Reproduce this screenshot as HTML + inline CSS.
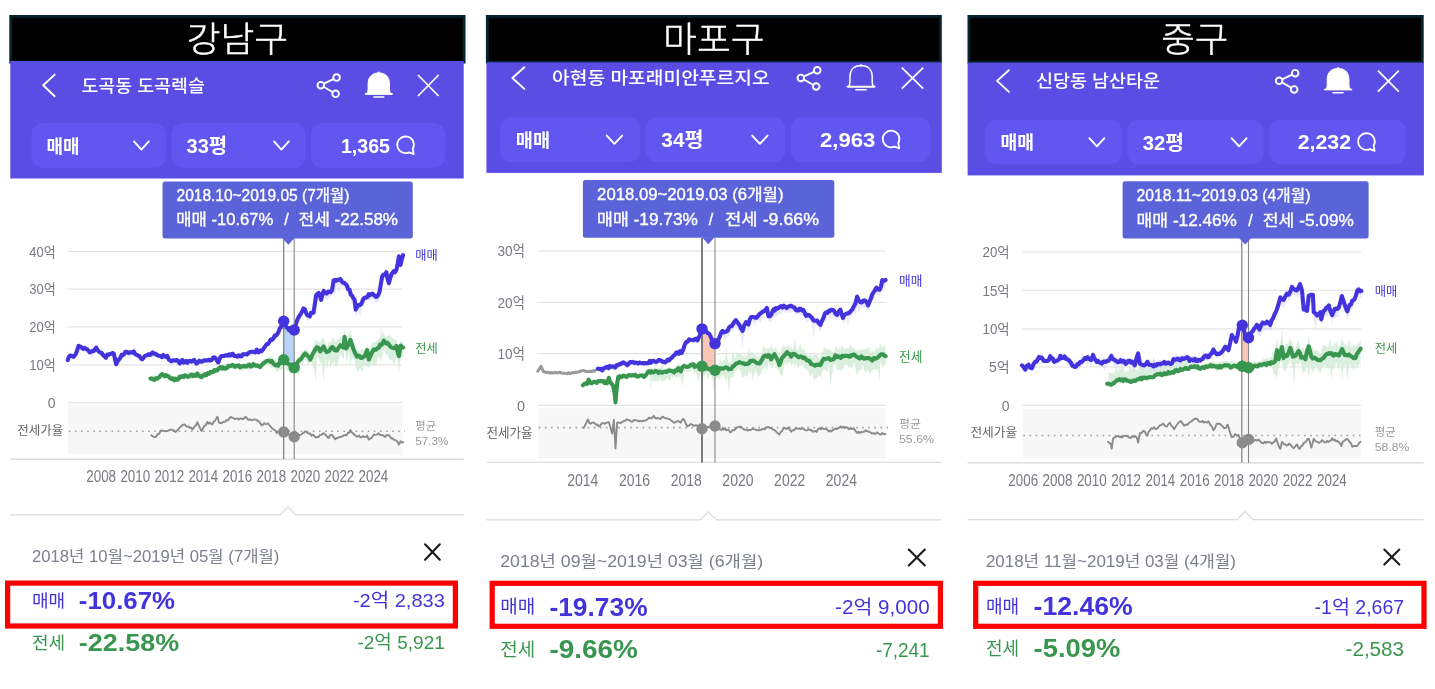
<!DOCTYPE html>
<html lang="ko">
<head>
<meta charset="utf-8">
<title>구별 아파트 실거래가 비교</title>
<style>
html,body{margin:0;padding:0;background:#fff;}
body{width:1435px;height:689px;overflow:hidden;position:relative;font-family:'Liberation Sans','Noto Sans CJK KR',sans-serif;}
svg{position:absolute;left:0;top:0;display:block;}
svg text{font-family:'Liberation Sans','Noto Sans CJK KR',sans-serif;white-space:pre;}
</style>
</head>
<body>
<svg width="1435" height="689" viewBox="0 0 1435 689">
<g>
<rect x="9.3" y="15" width="456.2" height="48.5" fill="#05232f"/>
<rect x="12.1" y="17.8" width="450.6" height="42.9" fill="#000"/>
<rect x="10.3" y="61" width="453.4" height="117.5" fill="#594de4"/>
<text x="237.4" y="52.2" font-size="35" fill="#fff" font-weight="300" text-anchor="middle" textLength="101.5" lengthAdjust="spacingAndGlyphs" stroke="#fff" stroke-width="0.45">강남구</text>
<polyline points="54.7,74.6 43.2,85.3 54.7,96.2" fill="none" stroke="#fff" stroke-width="1.9" stroke-linejoin="round" stroke-linecap="round"/>
<text x="81.4" y="91.75" font-size="17" fill="#fff" font-weight="500" textLength="123.4" lengthAdjust="spacingAndGlyphs">도곡동 도곡렉슬</text>
<path d="M336.6 77.6L320.8 85.2L335.6 93.8" fill="none" stroke="#fff" stroke-width="1.9"/>
<circle cx="336.6" cy="77.6" r="3.3" fill="#594de4" stroke="#fff" stroke-width="1.9"/>
<circle cx="320.8" cy="85.2" r="3.3" fill="#594de4" stroke="#fff" stroke-width="1.9"/>
<circle cx="335.6" cy="93.8" r="3.3" fill="#594de4" stroke="#fff" stroke-width="1.9"/>
<path d="M365.9 94.1C367.7 93.5 368.1 91 368.1 88.5L368.1 84C368.1 76.1 372.92 72.9 378.8 72.9C384.69 72.9 389.5 76.1 389.5 84L389.5 88.5C389.5 91 389.9 93.5 391.7 94.1Z" fill="#fff" stroke="#fff" stroke-width="1"/>
<line x1="365.6" y1="93.9" x2="392" y2="93.9" stroke="#fff" stroke-width="1.7" stroke-linecap="round"/>
<line x1="373.8" y1="97.1" x2="383.8" y2="97.1" stroke="#fff" stroke-width="1.5" stroke-linecap="round"/>
<line x1="378.8" y1="71.7" x2="378.8" y2="73.9" stroke="#fff" stroke-width="1.8"/>
<line x1="418" y1="75" x2="438.6" y2="96" stroke="#fff" stroke-width="1.7"/>
<line x1="438.6" y1="75" x2="418" y2="96" stroke="#fff" stroke-width="1.7"/>
<rect x="31.4" y="123" width="134.5" height="44.8" fill="#6256f1" rx="11.5"/>
<rect x="171.4" y="123" width="134.2" height="44.8" fill="#6256f1" rx="11.5"/>
<rect x="311.1" y="123" width="134.3" height="44.8" fill="#6256f1" rx="11.5"/>
<text x="46.5" y="152.51" font-size="18.6" fill="#fff" font-weight="700" textLength="33" lengthAdjust="spacingAndGlyphs">매매</text>
<text x="186.6" y="152.8" font-size="20" fill="#fff" font-weight="700" textLength="40.6" lengthAdjust="spacingAndGlyphs">33평</text>
<polyline points="134,141.4 141.4,149.6 148.8,141.4" fill="none" stroke="#fff" stroke-width="1.9" stroke-linejoin="round" stroke-linecap="round"/>
<polyline points="274,141.4 281.4,149.6 288.8,141.4" fill="none" stroke="#fff" stroke-width="1.9" stroke-linejoin="round" stroke-linecap="round"/>
<text x="340.9" y="152.6" font-size="20" fill="#fff" font-weight="700" textLength="49.1" lengthAdjust="spacingAndGlyphs">1,365</text>
<path d="M413.73 154.1L409.09 152.35A8.3 8.3 0 1 1 412.74 149.03Z" fill="none" stroke="#fff" stroke-width="1.8" stroke-linejoin="round"/>
<rect x="68.2" y="405.2" width="334" height="49.5" fill="#f7f7f7"/>
<line x1="68.2" y1="251.3" x2="402.2" y2="251.3" stroke="#e4e4e4" stroke-width="1.2"/>
<line x1="68.2" y1="289.2" x2="402.2" y2="289.2" stroke="#e4e4e4" stroke-width="1.2"/>
<line x1="68.2" y1="326.9" x2="402.2" y2="326.9" stroke="#e4e4e4" stroke-width="1.2"/>
<line x1="68.2" y1="364.9" x2="402.2" y2="364.9" stroke="#e4e4e4" stroke-width="1.2"/>
<line x1="68.2" y1="402.6" x2="402.2" y2="402.6" stroke="#e4e4e4" stroke-width="1.2"/>
<text x="55.6" y="256.5" font-size="14" fill="#777a80" text-anchor="end" textLength="26.4" lengthAdjust="spacingAndGlyphs">40억</text>
<text x="55.6" y="294.4" font-size="14" fill="#777a80" text-anchor="end" textLength="26.4" lengthAdjust="spacingAndGlyphs">30억</text>
<text x="55.6" y="332.1" font-size="14" fill="#777a80" text-anchor="end" textLength="26.4" lengthAdjust="spacingAndGlyphs">20억</text>
<text x="55.6" y="370.1" font-size="14" fill="#777a80" text-anchor="end" textLength="26.4" lengthAdjust="spacingAndGlyphs">10억</text>
<text x="55.6" y="407.8" font-size="14" fill="#777a80" text-anchor="end">0</text>
<line x1="68.8" y1="431.2" x2="405" y2="431.2" stroke="#a3a3a3" stroke-width="1.6" stroke-dasharray="1.7 4.4"/>
<text x="17.2" y="434.77" font-size="12.2" fill="#666" textLength="46" lengthAdjust="spacingAndGlyphs">전세가율</text>
<line x1="10.5" y1="459.2" x2="463.8" y2="459.2" stroke="#dcdcdc" stroke-width="1.4"/>
<text x="101.2" y="481.66" font-size="15.6" fill="#777a80" text-anchor="middle" textLength="29.7" lengthAdjust="spacingAndGlyphs">2008</text>
<text x="135.23" y="481.66" font-size="15.6" fill="#777a80" text-anchor="middle" textLength="29.7" lengthAdjust="spacingAndGlyphs">2010</text>
<text x="169.26" y="481.66" font-size="15.6" fill="#777a80" text-anchor="middle" textLength="29.7" lengthAdjust="spacingAndGlyphs">2012</text>
<text x="203.29" y="481.66" font-size="15.6" fill="#777a80" text-anchor="middle" textLength="29.7" lengthAdjust="spacingAndGlyphs">2014</text>
<text x="237.32" y="481.66" font-size="15.6" fill="#777a80" text-anchor="middle" textLength="29.7" lengthAdjust="spacingAndGlyphs">2016</text>
<text x="271.35" y="481.66" font-size="15.6" fill="#777a80" text-anchor="middle" textLength="29.7" lengthAdjust="spacingAndGlyphs">2018</text>
<text x="305.38" y="481.66" font-size="15.6" fill="#777a80" text-anchor="middle" textLength="29.7" lengthAdjust="spacingAndGlyphs">2020</text>
<text x="339.41" y="481.66" font-size="15.6" fill="#777a80" text-anchor="middle" textLength="29.7" lengthAdjust="spacingAndGlyphs">2022</text>
<text x="373.44" y="481.66" font-size="15.6" fill="#777a80" text-anchor="middle" textLength="29.7" lengthAdjust="spacingAndGlyphs">2024</text>
<path d="M150.52 376.39L151.78 376.38L153.03 376.26L154.29 374.86L155.54 375.88L156.88 376.71L158.22 375.6L159.55 373.87L160.89 373.43L162.23 372.15L163.48 373.62L164.74 373.55L165.99 373.02L167.25 373.85L168.64 374.23L170.03 375.36L171.43 376.14L172.82 376.9L174.22 376.62L175.61 377.78L176.95 376.38L178.29 376.28L179.62 374.53L180.96 374.85L182.3 373.66L183.64 373.88L184.98 373.2L186.31 373.28L187.65 373.07L188.99 371.29L190.38 373.95L191.78 373.08L193.17 373.68L194.56 372.5L195.96 373.2L197.35 372.66L198.61 372.98L199.86 372.14L201.11 371.48L202.37 374.67L203.71 374.5L205.05 372.57L206.38 372.37L207.72 371.43L209.06 370.25L210.4 370.65L211.74 369.08L213.07 369.05L214.41 369.22L215.75 367.62L217 367.72L218.26 367.18L219.51 366.16L220.77 365.94L222.02 365.02L223.28 366.46L224.53 365.72L225.78 366.36L227.04 365.23L228.29 361.6L229.55 364.52L230.8 362.45L232.12 363.95L233.43 364.15L234.74 363.39L236.06 362.77L237.37 363.77L238.69 364.04L240 364.78L241.34 363.72L242.68 364.06L244.01 363.47L245.35 363.68L246.69 363.53L248.03 362.81L249.37 363.73L250.7 363.95L252.04 363.12L253.38 362.43L254.72 363.69L256.06 362.7L257.39 362.69L258.73 363.94L260.07 363.2L261.41 362.36L262.75 361.32L264.08 358.84L265.42 360.39L266.76 359.6L268.01 359.52L269.27 359.21L270.52 355.46L271.78 356.18L273.03 359.4L274.29 359.67L275.54 359.57L276.79 362.59L278.2 360.64L279.6 358.68L281.01 357.51L282.41 355.62L283.82 354.01L285.38 358.39L286.94 360.3L288.5 359.59L289.76 360.78L291.01 361.99L292.26 360.21L293.52 363.21L294.77 362.78L296.03 361.67L297.28 358L298.54 357.64L299.87 356.79L301.21 350.59L302.55 351.4L303.89 351.03L305.23 348.04L306.48 349.38L307.74 350.3L308.99 353.12L310.24 354.17L311.58 351.48L312.92 347.07L314.26 344.58L315.6 340.16L316.93 341.04L318.61 341.99L320.28 342.61L321.95 337.83L323.62 338.14L325.3 341.83L326.97 347.26L328.22 342.53L329.48 341.29L330.73 343.14L331.99 339.4L333.24 336.82L334.49 341.25L335.75 341.73L337 340.02L338.68 339.23L340.35 336.89L342.02 338.58L343.69 337.89L344.53 328.12L346.2 338.68L347.6 336.5L348.99 333.3L350.38 329.53L352.06 337.51L353.73 344.66L355.4 344.63L357.07 349.71L358.41 351.07L359.75 350.5L361.09 349.56L362.43 348.47L363.76 349.56L365.44 348.36L367.11 344.13L368.78 351.13L370.45 346.76L372.13 342.38L373.46 342.33L374.8 342.12L376.14 341.35L377.48 340.57L378.82 339.41L380.07 337.23L381.32 328.52L382.58 334.7L383.83 331.87L385.09 336.86L386.34 337.48L387.6 334.69L388.85 336.09L390.1 334.64L391.36 337.4L392.61 338.01L393.87 339.22L395.12 339.84L396.38 339.21L397.63 344.5L398.89 350.03L400.56 340.23L401.81 341.38L403.07 342.37L403.07 355.63L401.81 358.29L400.56 359.35L398.89 373.44L397.63 360.4L396.38 355.17L395.12 362.06L393.87 365.1L392.61 361.63L391.36 360.79L390.1 359.18L388.85 358.85L387.6 353.03L386.34 356.29L385.09 350.13L383.83 349.33L382.58 355.62L381.32 360.01L380.07 360.82L378.82 355.66L377.48 358.37L376.14 365.06L374.8 364.75L373.46 366.91L372.13 362.39L370.45 365.74L368.78 367.9L367.11 365.64L365.44 366.46L363.76 364.71L362.43 371.2L361.09 370.28L359.75 367.99L358.41 371.83L357.07 371.19L355.4 364.13L353.73 357.92L352.06 358.27L350.38 364.66L348.99 351.7L347.6 358.24L346.2 361.63L344.53 346.89L343.69 359.85L342.02 355.91L340.35 353.28L338.68 359.52L337 366.06L335.75 366.22L334.49 360.57L333.24 364.2L331.99 362.68L330.73 367.81L329.48 359.47L328.22 361.75L326.97 369.01L325.3 358.33L323.62 382.32L321.95 362.18L320.28 362.97L318.61 357.2L316.93 358.56L315.6 383.13L314.26 368.89L312.92 367.66L311.58 360.9L310.24 361.97L308.99 364.27L307.74 362.88L306.48 362.22L305.23 358.19L303.89 361.57L302.55 363.77L301.21 362.74L299.87 365.86L298.54 377.17L297.28 368.36L296.03 368.5L294.77 373.85L293.52 373.96L292.26 370.84L291.01 373.65L289.76 373.79L288.5 370.62L286.94 370.98L285.38 366.23L283.82 364.34L282.41 369L281.01 370.01L279.6 370.16L278.2 370.85L276.79 372.09L275.54 368.8L274.29 368.71L273.03 366.65L271.78 369.05L270.52 367.02L269.27 363.41L268.01 365.69L266.76 365.24L265.42 365.35L264.08 366.44L262.75 367.33L261.41 369.11L260.07 369.09L258.73 369.35L257.39 367.57L256.06 368.91L254.72 367.39L253.38 367.29L252.04 367.09L250.7 368.29L249.37 369.63L248.03 369.97L246.69 369.48L245.35 368.37L244.01 370.02L242.68 370.47L241.34 370.17L240 370.51L238.69 369.59L237.37 368.5L236.06 369L234.74 369.59L233.43 368.91L232.12 369.17L230.8 366.9L229.55 369.46L228.29 369.66L227.04 370.6L225.78 370.89L224.53 372.37L223.28 371.02L222.02 370.53L220.77 370.44L219.51 372.22L218.26 371.04L217 371.27L215.75 373.12L214.41 373.88L213.07 374.97L211.74 374.35L210.4 375.48L209.06 375.34L207.72 377.19L206.38 377.77L205.05 378.65L203.71 379.09L202.37 380.39L201.11 379.69L199.86 378.77L198.61 378.91L197.35 376.98L195.96 377L194.56 377.31L193.17 377.46L191.78 377.9L190.38 379.21L188.99 378.78L187.65 378.22L186.31 378.35L184.98 378.18L183.64 380.12L182.3 378.33L180.96 379.24L179.62 379.8L178.29 382.17L176.95 381.56L175.61 382.1L174.22 381.26L172.82 381.69L171.43 379.9L170.03 381.42L168.64 380.31L167.25 380.18L165.99 377.52L164.74 379.42L163.48 377.82L162.23 378.99L160.89 378.77L159.55 379.66L158.22 379.17L156.88 381.15L155.54 382.2L154.29 382.51L153.03 382.38L151.78 381.79L150.52 381.63Z" fill="#cfe9d4" fill-opacity="0.75"/>
<path d="M68.99 356.16L70.24 354.16L71.92 354.66L73.59 356.52L74.84 354.52L76.1 351.47L77.35 347.73L78.61 343.93L80.28 345.88L81.95 347.42L83.21 347.02L84.46 347.45L85.71 346.75L86.97 346.74L88.36 346.89L89.76 349.79L91.15 351.23L92.4 350.42L93.66 348.87L94.91 348.22L96.17 346.43L97.56 347.52L98.95 348.22L100.35 350.14L101.74 352.75L103.14 354.02L104.53 355.99L105.92 355.39L107.32 353.41L108.71 353.1L109.97 352.15L111.22 352.23L112.47 351.39L113.73 351.2L114.98 357.13L116.24 363.25L117.63 360.32L119.02 357.65L120.42 355.5L121.67 354.11L122.93 353.32L124.18 351.95L125.44 350.9L126.83 351.26L128.22 351.46L129.62 351.3L131.01 351.44L132.4 351.11L133.8 350.99L135.19 351.7L136.59 352.77L137.98 353.52L139.37 354.76L140.77 356.2L142.16 357.24L143.41 355.86L144.67 355.27L145.92 354.71L147.18 354.33L148.52 353.91L149.85 353.44L151.19 352.94L152.53 351.94L153.87 350.71L155.21 352.3L156.54 352.21L157.88 353.32L159.22 353.58L160.56 354.29L161.9 354.49L163.23 354.44L164.57 354.47L165.91 354.26L167.25 354.18L168.92 356.96L170.59 360.74L171.85 358.56L173.1 359L174.36 359.14L175.61 359.09L177 359.18L178.4 359.02L179.79 361.17L181.05 360.49L182.3 359.49L183.55 360.04L184.81 360.72L186.06 361L187.32 361L188.66 360.56L189.99 359.6L191.33 360L192.67 359.29L194.01 358.82L195.26 360.15L196.52 362.26L197.91 361.51L199.3 360.6L200.7 359.37L202.09 358.85L203.48 358.96L204.88 358.81L206.27 357.19L207.67 358.46L209.06 359.02L210.4 358.4L211.74 358.06L213.07 356.77L214.41 356.15L215.75 355.68L217 358.56L218.26 359.99L219.65 358.51L221.05 354.38L222.44 353.77L223.78 353.43L225.11 353.23L226.45 352.68L227.79 352.82L229.13 352.45L230.38 352.8L231.64 351.86L232.89 353.81L234.15 353.58L235.61 353.51L237.07 354.7L238.54 354.52L240 355.37L241.39 355.04L242.79 353.83L244.18 352.76L245.57 352.02L246.97 351.63L248.36 350.61L249.76 350.48L251.15 350.62L252.54 349.77L253.94 350.32L255.33 349.74L256.72 349.25L257.98 349.11L259.23 350.22L260.49 350.39L261.74 350.46L263 348.67L264.25 346.47L265.51 345.21L266.76 343.95L268.1 341.65L269.44 340.45L270.77 338.54L272.11 337.81L273.45 336.32L274.7 334.2L275.96 333.83L277.21 332.03L278.47 330.14L279.8 328.09L281.14 324.78L282.48 321.73L283.82 319.21L285.1 321.8L286.38 324.56L287.67 326.83L289.13 327.08L290.59 328.16L292.06 327.12L293.52 328.11L294.91 324.63L296.31 320.89L297.7 316.17L299.16 314.29L300.63 311.23L302.09 309.35L303.55 305.64L304.81 308.64L306.06 310.6L307.32 311.73L308.57 314.43L309.83 312.56L311.08 312.56L312.33 311.51L313.59 309.83L314.84 301.55L316.1 293.71L317.35 291.85L318.61 291.95L319.86 293.73L321.11 296.45L322.37 293.03L323.62 289.14L325.3 290.35L326.97 291.68L328.22 290.52L329.48 290.25L330.73 288.26L331.99 288.2L333.66 279.11L335 277.99L336.33 277.78L337.67 278.25L339.01 277.92L340.35 277.41L341.6 279.35L342.86 278.74L344.11 280.03L345.37 280.62L346.76 283.95L348.15 286.24L349.55 288.13L350.8 291.19L352.06 294.85L353.31 295.77L354.56 297.15L355.74 306.65L357.3 305.33L358.86 302.61L360.42 301.75L361.81 299.57L363.21 298.19L364.6 295.38L365.99 294.22L367.39 293.12L368.78 292.5L370.03 292.99L371.29 292.99L372.54 292.77L373.8 291.92L375.05 293.46L376.31 296.22L377.98 292.68L379.65 289.86L380.91 281.9L382.16 275.06L383.55 273.89L384.95 272.38L386.34 271.3L387.6 275.3L388.85 280.73L390.1 275.53L391.36 271.45L392.61 270.99L393.87 269.89L395.12 269.98L396.38 268.8L397.63 261.09L398.89 253.23L400.56 262.31L401.81 258.63L403.07 253.05L403.07 262.59L401.81 264.28L400.56 271.51L398.89 258.66L397.63 266.93L396.38 274.73L395.12 277.68L393.87 278.16L392.61 278.1L391.36 279.89L390.1 282.62L388.85 289.2L387.6 281.36L386.34 278.41L384.95 280.55L383.55 279.27L382.16 281.3L380.91 291.36L379.65 299.08L377.98 301.02L376.31 303.51L375.05 301.85L373.8 298.59L372.54 300.99L371.29 298.59L370.03 301.62L368.78 300.18L367.39 299.7L365.99 301.75L364.6 304.72L363.21 306.25L361.81 307.51L360.42 317.08L358.86 312.56L357.3 313.43L355.74 316.86L354.56 302.74L353.31 304.64L352.06 303.47L350.8 299.15L349.55 296.88L348.15 295.3L346.76 291.43L345.37 287.16L344.11 287.58L342.86 286.74L341.6 288.21L340.35 285.75L339.01 294.26L337.67 285.71L336.33 287.39L335 297.88L333.66 288.61L331.99 295.34L330.73 296.14L329.48 297.84L328.22 299.16L326.97 299.96L325.3 298.52L323.62 297.65L322.37 301.42L321.11 302.85L319.86 299.83L318.61 298.62L317.35 301.01L316.1 298.67L314.84 307.59L313.59 315.74L312.33 316.53L311.08 318.16L309.83 318.9L308.57 319.79L307.32 321.84L306.06 315.81L304.81 315.2L303.55 311.8L302.09 314.37L300.63 317.78L299.16 324.15L297.7 321.43L296.31 325.86L294.91 329.45L293.52 333.48L292.06 334.94L290.59 332.85L289.13 333.06L287.67 331.53L286.38 328.36L285.1 326.08L283.82 323.29L282.48 327.62L281.14 329.69L279.8 331.59L278.47 333.81L277.21 337.31L275.96 338.6L274.7 340.09L273.45 339.46L272.11 342.14L270.77 343.51L269.44 345.51L268.1 345.68L266.76 347.37L265.51 348.87L264.25 351.76L263 352.78L261.74 355.94L260.49 354.29L259.23 354.24L257.98 354.96L256.72 353.81L255.33 355.16L253.94 353.74L252.54 355.68L251.15 356.03L249.76 355.73L248.36 354.48L246.97 356.77L245.57 355.85L244.18 357.15L242.79 358.45L241.39 359.02L240 363.09L238.54 359.95L237.07 359.08L235.61 357.8L234.15 357.26L232.89 358.12L231.64 356.61L230.38 358.37L229.13 357.85L227.79 358.63L226.45 356.38L225.11 357.85L223.78 358.06L222.44 357.82L221.05 360.66L219.65 362.82L218.26 364.16L217 363.7L215.75 361.66L214.41 360.2L213.07 361.28L211.74 361.6L210.4 362.37L209.06 363.93L207.67 362.95L206.27 363L204.88 363.51L203.48 364.27L202.09 363.51L200.7 363.87L199.3 364L197.91 365.44L196.52 367.21L195.26 363.69L194.01 363.48L192.67 363.21L191.33 363.84L189.99 364.17L188.66 364.79L187.32 364.78L186.06 364.97L184.81 364.86L183.55 363.67L182.3 363.16L181.05 364.46L179.79 366.17L178.4 365.01L177 365.01L175.61 363.35L174.36 363.61L173.1 363.86L171.85 364.96L170.59 365.22L168.92 360.79L167.25 359.75L165.91 358.72L164.57 359.79L163.23 359.44L161.9 359.24L160.56 359.66L159.22 358.33L157.88 358.47L156.54 356.39L155.21 358.35L153.87 356.39L152.53 356.82L151.19 357.74L149.85 356.95L148.52 357.99L147.18 358.31L145.92 359.8L144.67 359.71L143.41 361.03L142.16 360.28L140.77 359.53L139.37 359.02L137.98 358.62L136.59 357.25L135.19 357.37L133.8 356.42L132.4 356.06L131.01 355.39L129.62 359.93L128.22 355.98L126.83 354.39L125.44 356.21L124.18 355.71L122.93 357.02L121.67 357.76L120.42 360.83L119.02 362.12L117.63 366.09L116.24 366.56L114.98 361.28L113.73 355.78L112.47 357.03L111.22 356.24L109.97 355.89L108.71 356.7L107.32 358.39L105.92 358.94L104.53 359.99L103.14 357.95L101.74 356.23L100.35 355.93L98.95 353.21L97.56 353.12L96.17 350.55L94.91 352.37L93.66 352.35L92.4 357.97L91.15 356.24L89.76 354.21L88.36 353.55L86.97 350.41L85.71 351.02L84.46 351.95L83.21 351.62L81.95 350.56L80.28 350.43L78.61 347.9L77.35 352.66L76.1 356.16L74.84 359.28L73.59 360.43L71.92 359.58L70.24 357.76L68.99 360.97Z" fill="#cfcdf6" fill-opacity="0.45"/>
<polygon points="283.7,321.2 285.01,324.68 286.32,327.33 287.64,327.81 288.95,330.15 290.26,328.19 291.57,329.11 292.89,329.84 294.2,330 294.2,367.6 292.89,366.45 291.57,366.63 290.26,365.19 288.95,364.29 287.64,363.56 286.32,362.69 285.01,361.56 283.7,359.8" fill="#b9d3f7"/>
<polyline points="150.52,378.48 151.78,378.62 153.03,379.39 154.29,379.84 155.54,378.31 156.88,378.72 158.22,377.84 159.55,377 160.89,374.94 162.23,374 163.48,375.07 164.74,376.15 165.99,375.17 167.25,375.98 168.64,376.18 170.03,378.09 171.43,378.97 172.82,378.3 174.22,380.38 175.61,378.77 176.95,379.8 178.29,379.18 179.62,376.68 180.96,377.24 182.3,376.12 183.64,377.07 184.98,375.28 186.31,376.07 187.65,376.89 188.99,376.31 190.38,375.24 191.78,374.41 193.17,376.19 194.56,374.8 195.96,375.77 197.35,373.44 198.61,375.68 199.86,376.31 201.11,377.19 202.37,375.65 203.71,375.67 205.05,374.06 206.38,374.91 207.72,373.12 209.06,373.73 210.4,371.83 211.74,372.29 213.07,372.01 214.41,370 215.75,370.26 217,370.59 218.26,368.93 219.51,367.9 220.77,367.05 222.02,368.51 223.28,367.29 224.53,368.49 225.78,368.58 227.04,367.74 228.29,365.89 229.55,366.32 230.8,366.1 232.12,364.91 233.43,365.18 234.74,366.8 236.06,366.25 237.37,365.75 238.69,365.36 240,367.38 241.34,366.24 242.68,366.36 244.01,365.73 245.35,366.43 246.69,366.49 248.03,365.32 249.37,364.59 250.7,366.61 252.04,366.26 253.38,363.95 254.72,365.43 256.06,365.89 257.39,365.37 258.73,366.33 260.07,367.04 261.41,365.32 262.75,364.01 264.08,362.7 265.42,362 266.76,360.92 268.01,360.62 269.27,360.65 270.52,361.95 271.78,361.01 273.03,362.91 274.29,364.44 275.54,365.43 276.79,364.86 278.18,365.73 279.56,362.51 280.94,362.91 282.32,361.84 283.7,359.8 285.3,361.95 286.9,363.11 288.5,364.08 289.93,364.73 291.35,366.68 292.78,366.36 294.2,367.6 295.65,365.73 297.09,363.14 298.54,360.95 299.87,359.6 301.21,358.95 302.55,356.71 303.89,354.81 305.23,353.36 306.48,354.78 307.74,355.94 308.99,357.03 310.24,359.54 311.58,356.84 312.92,353.42 314.26,351.46 315.6,348.97 316.93,347.22 318.61,348.08 320.28,351.48 321.95,348.96 323.62,346.52 325.3,350.58 326.97,352.15 328.22,351.29 329.48,350.67 330.73,348.3 331.99,346.98 333.24,347.44 334.49,349.99 335.75,350.45 337,350.42 338.68,347.61 340.35,345.25 342.02,346.33 343.69,347.6 344.53,336.77 346.2,348.56 347.6,346.08 348.99,343.44 350.38,339.9 352.06,344.9 353.73,350.06 355.4,353.48 357.07,356.68 358.41,355.57 359.75,356.17 361.09,357.91 362.43,357.53 363.76,356.66 365.44,354.42 367.11,350.2 368.78,359.53 370.45,355.95 372.13,352.2 373.46,349.59 374.8,349.65 376.14,349.69 377.48,347.98 378.82,347.89 380.07,344.49 381.32,345.18 382.58,343.75 383.83,340.55 385.09,342.4 386.34,343.57 387.6,342.9 388.85,344.56 390.1,346.29 391.36,347.41 392.61,347.79 393.87,348.16 395.12,348.06 396.38,345.96 397.63,351.82 398.89,356.19 400.56,345.5 401.81,346.81 403.07,347.54" fill="none" stroke="#38964f" stroke-width="4.1" stroke-linejoin="round" stroke-linecap="round"/>
<polyline points="67.74,360.09 68.99,356.75 70.24,355.49 71.92,355.89 73.59,356.79 74.84,355.46 76.1,353.38 77.35,349.58 78.61,345.76 80.28,346.51 81.95,347.74 83.21,348.88 84.46,347.92 85.71,348.83 86.97,349.13 88.36,350.72 89.76,352.32 91.15,351.87 92.4,350.83 93.66,351.08 94.91,349.62 96.17,347.6 97.56,349.96 98.95,351.58 100.35,352.6 101.74,352.94 103.14,355.1 104.53,356.3 105.92,357.7 107.32,354.62 108.71,354.82 109.97,353.91 111.22,353.64 112.47,353.05 113.73,353.41 114.98,358.93 116.24,364.26 117.63,361.09 119.02,359.36 120.42,357.84 121.67,354.77 122.93,355.13 124.18,353.95 125.44,351.68 126.83,351.8 128.22,353.05 129.62,352.4 131.01,352.32 132.4,352.51 133.8,351.52 135.19,354.07 136.59,354.74 137.98,355.58 139.37,356.05 140.77,358.25 142.16,359.26 143.41,357.9 144.67,356.09 145.92,355.62 147.18,355 148.52,354.14 149.85,354.95 151.19,354.01 152.53,352.46 153.87,353.63 155.21,353.57 156.54,354.66 157.88,355.39 159.22,355.71 160.56,355.98 161.9,357.17 163.23,354.95 164.57,356.4 165.91,356.9 167.25,355.85 168.92,359.66 170.59,360.93 171.85,361.12 173.1,360.33 174.36,360.24 175.61,360.61 177,360 178.4,361.34 179.79,363.5 181.05,361.24 182.3,359.95 183.55,362.63 184.81,361.87 186.06,360.92 187.32,362.78 188.66,361.17 189.99,360.72 191.33,361.71 192.67,360.98 194.01,359.9 195.26,361.8 196.52,363.58 197.91,362.49 199.3,360.72 200.7,361.62 202.09,361.49 203.48,360.44 204.88,360.26 206.27,360.65 207.67,360.15 209.06,359.87 210.4,360.56 211.74,360.14 213.07,357.67 214.41,357.23 215.75,358.32 217,360.86 218.26,362.36 219.65,359 221.05,356.15 222.44,355.92 223.78,356.02 225.11,355.41 226.45,355.18 227.79,355.63 229.13,354.3 230.38,355.56 231.64,354.03 232.89,353.76 234.15,355.95 235.61,356 237.07,356.68 238.54,355.36 240,356.22 241.39,356.27 242.79,354.22 244.18,354.21 245.57,354.22 246.97,354.39 248.36,353.13 249.76,352.01 251.15,351.76 252.54,351.76 253.94,352.07 255.33,352.46 256.72,349.62 257.98,352.2 259.23,352.09 260.49,350.33 261.74,351.09 263,349.46 264.25,347.64 265.51,345.83 266.76,344.09 268.1,343.99 269.44,341.86 270.77,339.5 272.11,339.91 273.45,338.38 274.7,335.52 275.96,335.63 277.21,334.12 278.47,332.12 279.78,328.26 281.08,327.16 282.39,324.88 283.7,321.2 285.02,324.7 286.34,327.37 287.67,327.82 288.97,330.19 290.28,328.16 291.59,329.12 292.89,329.84 294.2,330 295.37,326.3 296.53,321.96 297.7,318.88 299.16,316.24 300.63,314.16 302.09,311.38 303.55,308.51 304.81,309.26 306.06,312.77 307.32,315.4 308.57,315.34 309.83,316.4 311.08,312.8 312.33,312.75 313.59,312.62 314.84,304.16 316.1,295.44 317.35,293.84 318.61,292.91 319.86,295.56 321.11,299.8 322.37,294.41 323.62,290.93 325.3,293.3 326.97,293.43 328.22,291.48 329.48,291.7 330.73,292.17 331.99,290.26 333.66,280.43 335,279.92 336.33,280.69 337.67,279.86 339.01,279.77 340.35,279.05 341.6,281.3 342.86,282.63 344.11,282.72 345.37,283.83 346.76,285.23 348.15,289.28 349.55,289.67 350.8,294.66 352.06,295.65 353.31,298.17 354.56,299.55 355.74,309.64 357.3,306.77 358.86,304.69 360.42,304.88 361.81,302.94 363.21,299.02 364.6,297.52 365.99,297.77 367.39,297.04 368.78,294.02 370.03,295.15 371.29,294.17 372.54,293.53 373.8,294.91 375.05,296.05 376.31,296.99 377.98,295.5 379.65,291.44 380.91,283.76 382.16,276.32 383.55,274.66 384.95,274.95 386.34,272.22 387.6,278.81 388.85,283.19 390.1,278.2 391.36,274.53 392.61,272.54 393.87,271.04 395.12,272.03 396.38,269.86 397.63,264.16 398.89,256.34 400.56,264.86 401.81,259.06 403.07,255.1" fill="none" stroke="#4233dc" stroke-width="4.1" stroke-linejoin="round" stroke-linecap="round"/>
<polyline points="151.36,435.35 152.75,436.3 154.15,437.09 155.54,437.07 156.79,435.58 158.05,433.86 159.3,433.72 160.56,430.7 161.9,430.49 163.23,430.84 164.57,430.94 165.91,431.19 167.25,431.16 168.5,430.26 169.76,430.2 171.01,429.62 172.26,429.65 173.94,430.51 175.61,431.9 176.95,430.51 178.29,429.59 179.62,427.58 180.96,426.66 182.3,425.14 183.55,424.71 184.81,424.43 186.06,426.23 187.32,426.71 188.57,426.55 189.83,427.75 191.08,427.59 192.33,429.57 193.59,427.93 194.84,426.37 196.1,425.27 197.35,422.22 198.75,425.41 200.14,428.33 201.53,430.99 203,428.21 204.46,425.77 205.92,424.96 207.39,421.94 208.64,423.67 209.9,422.56 211.15,423.96 212.4,424.43 213.66,421.76 214.91,420.67 216.17,418.83 217.42,416.66 219.09,422.84 220.35,422.98 221.6,423.25 222.86,422.03 224.11,421.76 225.45,421.53 226.79,419.95 228.13,420.25 229.46,418.27 230.8,416.97 232.12,417.55 233.43,418.05 234.74,419.02 236.06,418.66 237.37,418.54 238.69,419.61 240,418.46 241.25,418.4 242.51,419.04 243.76,418.76 245.02,416.91 246.27,417.46 247.53,419.05 248.78,420.01 250.03,419.23 251.37,420.16 252.71,419.8 254.05,419.38 255.39,419.57 256.72,419.83 257.98,421.27 259.23,421.53 260.49,423.7 261.74,425.31 263,424.67 264.25,423.11 265.51,424.18 266.76,423.94 268.01,423.4 269.27,425.06 270.52,426.49 271.78,427.98 273.03,429.18 274.29,429.65 275.54,430.94 276.79,433.01 278.18,431.37 279.56,432.02 280.94,431.04 282.32,432.6 283.7,432 285.01,432.93 286.32,432.54 287.64,433.1 288.95,434.4 290.26,435.49 291.57,434.72 292.89,435.72 294.2,436.7 295.65,436.17 297.09,435.05 298.54,435.86 299.87,434.84 301.21,434.68 302.55,433.32 303.89,432.74 305.23,431.2 306.48,432.39 307.74,432.93 308.99,433.75 310.24,433.55 311.58,435.78 312.92,434.76 314.26,435.93 315.6,437.47 316.93,437.05 318.27,437.16 319.61,435.16 320.95,434.94 322.29,434.08 323.62,433.29 324.88,434.22 326.13,435.23 327.39,436.94 328.64,438.06 330.31,434.87 331.99,434.88 333.66,437.08 335.33,439.34 336.59,437.89 337.84,437.97 339.09,437.25 340.35,436.73 341.6,436.81 342.86,435.89 344.11,435.32 345.37,434.85 346.62,435.23 347.87,432.77 349.13,432.88 350.38,429.93 351.64,432.2 352.89,433.13 354.15,434.64 355.4,435.38 356.66,436.59 357.91,436.38 359.16,435.61 360.42,437.42 361.76,437.1 363.09,436.13 364.43,437.03 365.77,437.09 367.11,435.69 368.78,439.59 370.03,438.65 371.29,438.05 372.54,436.48 373.8,434.41 375.05,434.82 376.31,434.62 377.56,434.27 378.82,433.35 380.07,434.93 381.32,435.32 382.58,435.03 383.83,435.85 385.09,436.91 386.34,435.15 387.6,435.44 388.85,434.92 390.1,436.79 391.36,438.51 392.61,438.28 393.87,439.68 395.54,440.24 397.21,441.22 398.89,444.59 400.56,441.18 401.81,442.6 403.07,442.04" fill="none" stroke="#8b8b8b" stroke-width="1.9" stroke-linejoin="round" stroke-linecap="round"/>
<line x1="283.7" y1="238.5" x2="283.7" y2="459.2" stroke="#7c7c7c" stroke-width="1.2"/>
<line x1="294.2" y1="238.5" x2="294.2" y2="459.2" stroke="#868686" stroke-width="1.1"/>
<circle cx="283.7" cy="321.2" r="5.7" fill="#4233dc"/>
<circle cx="294.2" cy="330" r="5.7" fill="#4233dc"/>
<circle cx="283.7" cy="359.8" r="5.7" fill="#38964f"/>
<circle cx="294.2" cy="367.6" r="5.7" fill="#38964f"/>
<circle cx="283.7" cy="432" r="5.7" fill="#8b8b8b"/>
<circle cx="294.2" cy="436.7" r="5.7" fill="#8b8b8b"/>
<text x="415.3" y="260.27" font-size="12.2" fill="#4233dc" textLength="22.4" lengthAdjust="spacingAndGlyphs">매매</text>
<text x="415.3" y="353.07" font-size="12.2" fill="#38964f" textLength="22.4" lengthAdjust="spacingAndGlyphs">전세</text>
<text x="415.3" y="429.92" font-size="11.2" fill="#9a9a9a" textLength="20.83" lengthAdjust="spacingAndGlyphs">평균</text>
<text x="415.3" y="445.19" font-size="11.4" fill="#9a9a9a" textLength="33" lengthAdjust="spacingAndGlyphs">57.3%</text>
<rect x="162.5" y="181.6" width="250.3" height="56.9" fill="#5b63d8" rx="2.5"/>
<path d="M282.2 238L288.4 244.8L294.6 238Z" fill="#5b63d8"/>
<text x="176.5" y="201.4" font-size="16" fill="#fff" textLength="173" lengthAdjust="spacingAndGlyphs" stroke="#fff" stroke-width="0.35">2018.10~2019.05 (7개월)</text>
<text x="176.3" y="225.2" font-size="16" fill="#fff" textLength="97" lengthAdjust="spacingAndGlyphs" stroke="#fff" stroke-width="0.35">매매 -10.67%</text>
<text x="286.6" y="225.2" font-size="16" fill="#fff" text-anchor="middle" stroke="#fff" stroke-width="0.35">/</text>
<text x="298.5" y="225.2" font-size="16" fill="#fff" textLength="99.5" lengthAdjust="spacingAndGlyphs" stroke="#fff" stroke-width="0.35">전세 -22.58%</text>
<path d="M10.5 514.9L280 514.9L288 506.9L296 514.9L463.8 514.9" fill="none" stroke="#dcdcdc" stroke-width="1.3"/>
<text x="32" y="562.26" font-size="15.6" fill="#7b7f8a" textLength="247.4" lengthAdjust="spacingAndGlyphs">2018년 10월~2019년 05월 (7개월)</text>
<line x1="425.1" y1="544.3" x2="439.8" y2="559.8" stroke="#1c1c1c" stroke-width="2.1" stroke-linecap="round"/>
<line x1="439.8" y1="544.3" x2="425.1" y2="559.8" stroke="#1c1c1c" stroke-width="2.1" stroke-linecap="round"/>
<text x="32" y="606.86" font-size="17.6" fill="#4233dc" textLength="33.2" lengthAdjust="spacingAndGlyphs">매매</text>
<text x="78.8" y="608.88" font-size="24.8" fill="#4233dc" font-weight="700" textLength="96.2" lengthAdjust="spacingAndGlyphs">-10.67%</text>
<text x="444.9" y="607.45" font-size="19" fill="#4233dc" text-anchor="end" textLength="92" lengthAdjust="spacingAndGlyphs">-2억 2,833</text>
<text x="32" y="648.66" font-size="17.6" fill="#38964f" textLength="33.2" lengthAdjust="spacingAndGlyphs">전세</text>
<text x="78.8" y="650.68" font-size="24.8" fill="#38964f" font-weight="700" textLength="100.4" lengthAdjust="spacingAndGlyphs">-22.58%</text>
<text x="444.9" y="649.25" font-size="19" fill="#38964f" text-anchor="end" textLength="87.5" lengthAdjust="spacingAndGlyphs">-2억 5,921</text>
<rect x="7.6" y="583.1" width="447.8" height="42.9" fill="none" stroke="#ff0000" stroke-width="5.2"/>
</g>
<g>
<rect x="485.9" y="15" width="455.9" height="48.5" fill="#05232f"/>
<rect x="488.7" y="17.8" width="450.3" height="42.9" fill="#000"/>
<rect x="486.4" y="62.3" width="455.4" height="110.6" fill="#594de4"/>
<text x="713.85" y="52.2" font-size="35" fill="#fff" font-weight="300" text-anchor="middle" textLength="101.5" lengthAdjust="spacingAndGlyphs" stroke="#fff" stroke-width="0.45">마포구</text>
<polyline points="524.33,67.3 512.38,78 524.33,88.9" fill="none" stroke="#fff" stroke-width="1.9" stroke-linejoin="round" stroke-linecap="round"/>
<text x="552.07" y="84.45" font-size="17" fill="#fff" font-weight="500" textLength="217.5" lengthAdjust="spacingAndGlyphs">아현동 마포래미안푸르지오</text>
<path d="M817.23 70.3L800.81 77.9L816.19 86.5" fill="none" stroke="#fff" stroke-width="1.9"/>
<circle cx="817.23" cy="70.3" r="3.3" fill="#594de4" stroke="#fff" stroke-width="1.9"/>
<circle cx="800.81" cy="77.9" r="3.3" fill="#594de4" stroke="#fff" stroke-width="1.9"/>
<circle cx="816.19" cy="86.5" r="3.3" fill="#594de4" stroke="#fff" stroke-width="1.9"/>
<path d="M847.67 86.8C849.56 86.2 849.96 83.7 849.96 81.2L849.96 76.7C849.96 68.8 854.96 65.6 861.07 65.6C867.19 65.6 872.19 68.8 872.19 76.7L872.19 81.2C872.19 83.7 872.59 86.2 874.48 86.8Z" fill="none" stroke="#fff" stroke-width="1.5"/>
<line x1="847.36" y1="86.6" x2="874.79" y2="86.6" stroke="#fff" stroke-width="1.7" stroke-linecap="round"/>
<line x1="855.88" y1="89.8" x2="866.27" y2="89.8" stroke="#fff" stroke-width="1.5" stroke-linecap="round"/>
<line x1="861.07" y1="64.4" x2="861.07" y2="66.6" stroke="#fff" stroke-width="1.8"/>
<line x1="901.8" y1="67.7" x2="923.21" y2="88.7" stroke="#fff" stroke-width="1.7"/>
<line x1="923.21" y1="67.7" x2="901.8" y2="88.7" stroke="#fff" stroke-width="1.7"/>
<rect x="500.12" y="117.2" width="139.75" height="44.8" fill="#6256f1" rx="11.5"/>
<rect x="645.58" y="117.2" width="139.43" height="44.8" fill="#6256f1" rx="11.5"/>
<rect x="790.73" y="117.2" width="139.54" height="44.8" fill="#6256f1" rx="11.5"/>
<text x="515.81" y="146.71" font-size="18.6" fill="#fff" font-weight="700" textLength="34.29" lengthAdjust="spacingAndGlyphs">매매</text>
<text x="661.38" y="147" font-size="20" fill="#fff" font-weight="700" textLength="42.18" lengthAdjust="spacingAndGlyphs">34평</text>
<polyline points="606.73,135.6 614.41,143.8 622.1,135.6" fill="none" stroke="#fff" stroke-width="1.9" stroke-linejoin="round" stroke-linecap="round"/>
<polyline points="752.19,135.6 759.87,143.8 767.56,135.6" fill="none" stroke="#fff" stroke-width="1.9" stroke-linejoin="round" stroke-linecap="round"/>
<text x="819.9" y="146.8" font-size="20" fill="#fff" font-weight="700" textLength="55.5" lengthAdjust="spacingAndGlyphs">2,963</text>
<path d="M899.25 148.3L894.6 146.55A8.3 8.3 0 1 1 898.26 143.23Z" fill="none" stroke="#fff" stroke-width="1.8" stroke-linejoin="round"/>
<rect x="538.2" y="408.4" width="347.4" height="50.2" fill="#f7f7f7"/>
<line x1="538.2" y1="251.1" x2="885.6" y2="251.1" stroke="#e4e4e4" stroke-width="1.2"/>
<line x1="538.2" y1="302.3" x2="885.6" y2="302.3" stroke="#e4e4e4" stroke-width="1.2"/>
<line x1="538.2" y1="353.6" x2="885.6" y2="353.6" stroke="#e4e4e4" stroke-width="1.2"/>
<line x1="538.2" y1="405.4" x2="885.6" y2="405.4" stroke="#e4e4e4" stroke-width="1.2"/>
<text x="525" y="256.45" font-size="14.42" fill="#777a80" text-anchor="end" textLength="27.6" lengthAdjust="spacingAndGlyphs">30억</text>
<text x="525" y="307.65" font-size="14.42" fill="#777a80" text-anchor="end" textLength="27.6" lengthAdjust="spacingAndGlyphs">20억</text>
<text x="525" y="358.95" font-size="14.42" fill="#777a80" text-anchor="end" textLength="27.6" lengthAdjust="spacingAndGlyphs">10억</text>
<text x="525" y="410.75" font-size="14.42" fill="#777a80" text-anchor="end">0</text>
<line x1="538.8" y1="427.6" x2="888" y2="427.6" stroke="#a3a3a3" stroke-width="1.6" stroke-dasharray="1.7 4.4"/>
<text x="486.4" y="437.1" font-size="12.57" fill="#666" textLength="46.3" lengthAdjust="spacingAndGlyphs">전세가율</text>
<line x1="486.7" y1="462.4" x2="941.6" y2="462.4" stroke="#dcdcdc" stroke-width="1.4"/>
<text x="582.7" y="486.02" font-size="16.07" fill="#777a80" text-anchor="middle" textLength="31.1" lengthAdjust="spacingAndGlyphs">2014</text>
<text x="634.44" y="486.02" font-size="16.07" fill="#777a80" text-anchor="middle" textLength="31.1" lengthAdjust="spacingAndGlyphs">2016</text>
<text x="686.18" y="486.02" font-size="16.07" fill="#777a80" text-anchor="middle" textLength="31.1" lengthAdjust="spacingAndGlyphs">2018</text>
<text x="737.92" y="486.02" font-size="16.07" fill="#777a80" text-anchor="middle" textLength="31.1" lengthAdjust="spacingAndGlyphs">2020</text>
<text x="789.66" y="486.02" font-size="16.07" fill="#777a80" text-anchor="middle" textLength="31.1" lengthAdjust="spacingAndGlyphs">2022</text>
<text x="841.4" y="486.02" font-size="16.07" fill="#777a80" text-anchor="middle" textLength="31.1" lengthAdjust="spacingAndGlyphs">2024</text>
<path d="M650.28 367.12L651.61 369.42L652.95 369.12L654.29 367.19L655.63 369.62L657.02 369.23L658.41 367.63L659.81 368.07L661.2 367.61L662.6 364.65L663.99 369.66L665.24 368.21L666.5 367.89L667.75 367.01L669.01 367.84L670.26 367.39L671.52 367.82L672.77 367.83L674.02 369.23L675.42 366.86L676.81 366.39L678.21 364.08L679.46 364.52L680.71 366.31L682.39 364.32L684.06 362.96L685.73 363.58L687.4 364.41L689.08 362.98L690.75 361.66L692 360.35L693.26 362.97L694.51 361.42L695.77 363.27L697.04 363.47L698.31 359.11L699.58 363.89L700.85 363.26L702.12 361.52L703.46 364.04L704.8 364.16L706.14 365.02L707.47 364.49L708.73 365.71L709.98 365.44L711.24 366.62L712.49 367.66L713.75 367.05L715 366.7L716.25 367.8L717.51 366.53L718.76 364.37L720.02 357.97L721.27 361.27L722.53 362.26L723.78 359.81L725.03 359.25L726.29 347.12L727.54 359.45L728.8 361.42L730.05 363.35L731.31 362.38L732.56 350.02L733.82 355L735.07 359.01L736.46 352.83L737.86 352.69L739.25 353.73L740.71 354.34L742.18 354.73L743.64 356.51L745.1 355.58L746.36 356.87L747.61 355.36L748.87 347.22L750.12 354.54L751.38 351.65L752.63 351.87L753.89 354.9L755.14 355.07L756.81 356.85L758.48 356.1L759.74 356.22L760.99 355.27L762.25 349.93L763.5 345.2L764.76 348.06L766.01 347.76L767.26 349.46L768.52 347.34L769.77 348.98L771.03 343.6L772.7 349.05L774.37 348.91L775.63 346.31L776.88 349.23L778.14 355.1L779.39 353.15L780.64 356.08L781.9 347.39L783.57 345.05L785.24 347.47L786.92 346.8L788.59 344.19L789.84 347.77L791.1 346.7L792.35 349.84L793.61 347.73L794.86 336.81L796.11 346.44L797.37 350.92L798.62 348.34L800.3 343.19L801.97 350.35L803.22 348.44L804.48 348.34L805.73 353.69L806.99 354.21L808.32 355.16L809.66 355.27L811 353.96L812.34 357.15L813.68 354.85L815.01 355.03L816.35 355L817.69 353.32L819.03 359.33L820.37 356.45L822.04 353.38L823.71 347.93L824.97 346.51L826.22 350.04L827.47 347.79L828.73 349.97L830.4 348.87L832.07 352.33L833.75 352.47L835.42 347.27L836.76 346.04L838.09 350.19L839.43 347.84L840.77 349.19L842.11 345.05L843.45 347.79L844.78 349.34L846.12 347.39L847.46 348.25L848.8 348.77L850.05 344.41L851.31 346.84L852.56 346.95L853.82 348.47L855.21 350.26L856.6 350.58L858 350.46L859.67 349.48L861.34 350.52L862.74 349.47L864.13 349.38L865.52 349.01L867.2 348.43L868.87 346.36L870.54 353.34L872.21 350.83L873.89 352.17L875.56 349.44L876.81 345.67L878.07 349.94L879.32 346.69L880.57 343.55L881.83 347.31L883.08 345.76L884.34 347.35L885.59 344.89L885.59 366.13L884.34 364.11L883.08 368.31L881.83 364.51L880.57 361.27L879.32 382.11L878.07 368L876.81 371.12L875.56 369.11L873.89 369.16L872.21 369.89L870.54 373.37L868.87 372.04L867.2 369.64L865.52 372.84L864.13 369.94L862.74 364.32L861.34 370.54L859.67 368.52L858 372.96L856.6 374.67L855.21 366.79L853.82 361.52L852.56 367.01L851.31 367.99L850.05 367.52L848.8 367.79L847.46 364.54L846.12 365.41L844.78 364.13L843.45 368.87L842.11 369.84L840.77 370.95L839.43 369.9L838.09 369.06L836.76 370.48L835.42 362.47L833.75 365.7L832.07 373.63L830.4 386.38L828.73 363.89L827.47 372.07L826.22 370.65L824.97 369.44L823.71 369.21L822.04 372.12L820.37 377.89L819.03 374.45L817.69 377.9L816.35 377.73L815.01 379.48L813.68 379.58L812.34 373.35L811 376.48L809.66 374.78L808.32 371.49L806.99 369.82L805.73 367.8L804.48 370.02L803.22 365.09L801.97 366.66L800.3 364.52L798.62 366.84L797.37 368.38L796.11 362.6L794.86 368.94L793.61 362.19L792.35 364.24L791.1 365.92L789.84 361.85L788.59 362.37L786.92 364.73L785.24 361.5L783.57 369.12L781.9 377.22L780.64 375.14L779.39 372.81L778.14 369.52L776.88 368.53L775.63 368.27L774.37 361.36L772.7 369.56L771.03 366.97L769.77 365.36L768.52 361.85L767.26 369.95L766.01 370.17L764.76 364.36L763.5 370.56L762.25 368.26L760.99 374.11L759.74 376.05L758.48 376.35L756.81 373.02L755.14 370.23L753.89 375.29L752.63 381.77L751.38 369.69L750.12 374.52L748.87 369.63L747.61 377.5L746.36 374.51L745.1 376.22L743.64 376.98L742.18 376.55L740.71 371.3L739.25 369.12L737.86 368.37L736.46 371.16L735.07 371.12L733.82 377.38L732.56 376.84L731.31 377.08L730.05 379.53L728.8 394.63L727.54 376.04L726.29 381.72L725.03 379.85L723.78 374.85L722.53 376.46L721.27 374.68L720.02 380.15L718.76 379.14L717.51 377.85L716.25 377.77L715 380.32L713.75 392.32L712.49 377.88L711.24 375.53L709.98 374.86L708.73 378.52L707.47 377.76L706.14 373.19L704.8 376.7L703.46 375.79L702.12 383.25L700.85 373.56L699.58 374.14L698.31 382.86L697.04 375.69L695.77 371.95L694.51 374.24L693.26 370.73L692 369.33L690.75 370.74L689.08 371.59L687.4 372.48L685.73 371.02L684.06 371.38L682.39 387.1L680.71 376.65L679.46 378.16L678.21 375.85L676.81 378.94L675.42 376.3L674.02 376.43L672.77 377.88L671.52 375.95L670.26 380.53L669.01 380.51L667.75 377.55L666.5 378.86L665.24 379.75L663.99 381.75L662.6 380.21L661.2 381.93L659.81 377.75L658.41 381.97L657.02 381.3L655.63 381.49L654.29 380.32L652.95 381.96L651.61 380.11L650.28 390.23Z" fill="#cfe9d4" fill-opacity="0.75"/>
<path d="M597.93 366.74L599.32 367.39L600.71 368.1L602.11 368.57L603.36 367.4L604.62 366.48L605.87 365.65L607.13 365.46L608.46 365.56L609.8 365.38L611.14 365.19L612.48 366.04L613.82 365.72L615.21 364.53L616.6 363.83L618 363.4L619.39 363.11L620.78 362.58L622.18 361.02L623.43 361.5L624.69 362.53L625.94 362.13L627.2 363L628.59 362.46L629.98 361.53L631.38 360.31L632.77 360.81L634.16 361.11L635.56 362.29L636.81 361.24L638.07 361.29L639.32 360.16L640.57 360.54L641.83 360.9L643.08 361.81L644.34 361.56L645.59 361.42L646.93 361.42L648.27 361.22L649.61 360.05L650.94 359.77L652.28 359.93L653.95 360.13L655.63 361.77L657.02 360.78L658.41 359.53L659.81 359L661.2 359.14L662.6 360.43L663.99 358.78L665.24 360.29L666.5 359.19L667.75 358.54L669.01 357.62L670.47 356.41L671.93 355.24L673.4 353.83L674.86 352.56L676.2 352.33L677.54 351.45L678.87 351.36L680.21 350.91L681.55 350.54L683.22 346.62L684.9 343.67L686.29 341.53L687.68 339.24L689.08 336.5L690.75 337.72L692.42 337.92L693.68 338.1L694.93 338.06L696.18 338.65L697.44 338.68L699 334.99L700.56 330.64L702.12 327.22L703.53 328.94L704.93 329.29L706.34 330.7L707.74 331.66L709.15 332.67L710.82 337L712.49 339.93L713.75 342.05L715 344.19L716.67 341.69L718.34 340.07L719.74 335.62L721.13 332.23L722.53 327.83L723.78 329.23L725.03 330.03L726.37 328.49L727.71 328.13L729.05 326.01L730.39 324.92L731.72 321.77L733.12 320.24L734.51 318.99L735.91 317.88L737.58 320.13L739.25 323.12L740.92 325.23L742.6 327.39L744.27 323.94L745.94 320.28L747.2 320.21L748.45 321.29L749.7 317.78L750.96 314.47L752.35 315.72L753.75 315.22L755.14 315.2L756.39 314.46L757.65 313.16L758.9 312.65L760.16 311.82L761.41 310.49L762.67 309.55L763.92 308.57L765.17 307.83L766.85 305.67L768.52 313.24L769.77 312.58L771.03 312.3L772.28 310.01L773.54 305.8L774.79 306.95L776.05 307.14L777.3 306.83L778.55 304.63L779.89 305.67L781.23 305.21L782.57 305.12L783.91 304.17L785.24 305.03L786.58 305.29L787.92 305.36L789.26 303.91L790.6 304.89L791.93 304L793.19 306.11L794.44 306.87L795.7 306.15L796.95 307.67L798.21 307.16L799.46 307.4L800.71 307.24L801.97 306.58L803.36 308.49L804.76 310.81L806.15 313.39L807.54 313.41L808.94 313.98L810.33 313.93L812 317.05L813.68 318.31L815.35 318.44L817.02 319.22L818.69 320.03L820.37 321.41L822.04 318.77L823.71 314.27L824.97 312.2L826.22 310.37L827.47 309.34L828.73 307.2L829.98 307.57L831.24 307.75L832.49 307.94L833.75 309.55L835.42 310.91L837.09 312.39L838.76 309.9L840.44 307.43L841.69 311.18L842.94 316.19L844.2 313.61L845.45 310.36L846.71 310.56L847.96 310.79L849.22 309.66L850.47 309.11L852.14 306.68L853.82 304.9L855.49 300.59L857.16 296.1L858.83 297.41L860.51 301.21L861.76 298.76L863.01 298.35L864.27 298.35L865.52 300.7L866.78 301.29L868.03 302.48L869.43 299.01L870.82 295.83L872.21 292.07L873.89 290.59L875.14 287.98L876.39 285.12L878.07 286.44L879.74 288.88L880.99 282.97L882.25 278.88L883.92 278.35L885.59 277.41L885.59 290.96L883.92 285.39L882.25 286.64L880.99 290.47L879.74 296.52L878.07 295.99L876.39 293.62L875.14 297.11L873.89 299.01L872.21 300.28L870.82 302.62L869.43 309.35L868.03 311.17L866.78 310.86L865.52 307.74L864.27 307.96L863.01 307.84L861.76 306.01L860.51 309.29L858.83 313.02L857.16 305.83L855.49 316.38L853.82 311.43L852.14 316.25L850.47 317.01L849.22 317.66L847.96 326.27L846.71 317.01L845.45 321.9L844.2 321.49L842.94 324.5L841.69 318.29L840.44 314.15L838.76 318.11L837.09 319.4L835.42 318.92L833.75 318.22L832.49 317.35L831.24 314.12L829.98 318.64L828.73 318.1L827.47 315.46L826.22 320.36L824.97 320.79L823.71 321.26L822.04 324.62L820.37 332.7L818.69 326.95L817.02 325.32L815.35 324.8L813.68 338.65L812 323.32L810.33 320.03L808.94 319.66L807.54 321.78L806.15 323.17L804.76 318.25L803.36 318.24L801.97 315.22L800.71 316.33L799.46 313.37L798.21 313.42L796.95 313.66L795.7 315.33L794.44 312.38L793.19 312.08L791.93 311.63L790.6 312.7L789.26 312.13L787.92 312.98L786.58 311.16L785.24 313.46L783.91 311.34L782.57 310.62L781.23 314.73L779.89 313.56L778.55 314.05L777.3 316.13L776.05 316.8L774.79 317.56L773.54 316.33L772.28 320.05L771.03 322.37L769.77 321.74L768.52 321.5L766.85 313.73L765.17 313.36L763.92 315.61L762.67 318.23L761.41 320.28L760.16 322.71L758.9 319.92L757.65 320.7L756.39 321.45L755.14 325.38L753.75 322.62L752.35 322.27L750.96 322.32L749.7 328.38L748.45 331.77L747.2 327.3L745.94 330.98L744.27 330.46L742.6 348.42L740.92 333.06L739.25 331.07L737.58 329.64L735.91 327.46L734.51 327.96L733.12 330.6L731.72 331.43L730.39 332.03L729.05 336.6L727.71 335.73L726.37 338.29L725.03 340.4L723.78 337.63L722.53 335.83L721.13 338.01L719.74 339.71L718.34 343.63L716.67 347.16L715 348.99L713.75 346.75L712.49 343.65L710.82 340.04L709.15 336.3L707.74 337.21L706.34 334.6L704.93 334.61L703.53 333.78L702.12 330.88L700.56 334.67L699 345.14L697.44 342.88L696.18 342.38L694.93 343.27L693.68 341.63L692.42 342.5L690.75 342.06L689.08 341.74L687.68 345.82L686.29 344.81L684.9 349.29L683.22 351.68L681.55 354.12L680.21 354.63L678.87 355.42L677.54 355.21L676.2 356.01L674.86 356.31L673.4 359.04L671.93 359.91L670.47 361.08L669.01 361.73L667.75 362.65L666.5 364.39L665.24 364.92L663.99 366L662.6 365.45L661.2 363.59L659.81 362.41L658.41 362.99L657.02 365.85L655.63 365.97L653.95 364.97L652.28 363.11L650.94 364.51L649.61 364.61L648.27 364.99L646.93 366.56L645.59 365.27L644.34 366.2L643.08 366.3L641.83 364.74L640.57 364.41L639.32 365.43L638.07 365.91L636.81 365.43L635.56 366.63L634.16 366L632.77 364.76L631.38 364.75L629.98 366.79L628.59 366.45L627.2 366.65L625.94 368.19L624.69 365.58L623.43 365.84L622.18 366.93L620.78 367.28L619.39 368.39L618 368.94L616.6 369.11L615.21 369.41L613.82 369.66L612.48 369.42L611.14 369.23L609.8 369.19L608.46 370.53L607.13 370.39L605.87 370.27L604.62 371.46L603.36 372.45L602.11 371.46L600.71 372.08L599.32 371.75L597.93 372.78Z" fill="#cfcdf6" fill-opacity="0.45"/>
<polygon points="702,328.9 703.62,330 705.25,330.23 706.88,332.08 708.5,333.43 710.12,335.57 711.75,339.24 713.38,342.26 715,343.6 715,370.3 713.38,369.99 711.75,369.73 710.12,369.75 708.5,368.93 706.88,368.3 705.25,367.26 703.62,365.99 702,366.2" fill="#f9c7b6"/>
<polyline points="537.72,371.17 539.39,368.81 541.06,366.35 542.32,369.53 543.57,371.7 544.91,371.74 546.25,372.66 547.59,372.34 548.92,372.54 550.26,373.15 551.66,372.47 553.05,373.14 554.44,372.66 555.84,372.19 557.23,372.98 558.62,372.58 560.02,372.22 561.41,373.12 562.8,373.2 564.2,373.3 565.59,373.36 566.99,373.83 568.38,372.71 569.77,373.54 571.17,373.07 572.56,372.54 573.95,372.76 575.35,372.34 576.74,372.35 578.14,372.1 579.53,371.61 580.92,370.88 582.32,370.86 583.71,370.47 585.05,371.12 586.39,371.5 587.72,371.54 589.06,371.5 590.4,371.34 591.66,371.54 592.91,370.77 594.16,371.16 595.42,370.33" fill="none" stroke="#9a9a9a" stroke-width="3" stroke-linejoin="round" stroke-linecap="round"/>
<polyline points="582.87,385.38 584.27,383.9 585.66,383.38 587.06,383.94 588.73,379.59 590.4,382.83 591.66,383.21 592.91,382.68 594.16,381.77 595.42,381.78 596.76,382.86 598.09,381.15 599.43,381.29 600.77,380.91 602.11,381.41 603.36,381.07 604.62,383.2 605.87,381.59 607.13,383.21 608.8,377.8 610.05,382 611.31,383.39 613.15,385.84 614.65,393.3 615.49,402.39 616.32,392.27 617.33,382.47 618.33,376.97 619.61,376.13 620.9,377.39 622.18,376.5 623.64,375.57 625.1,376.15 626.57,377.04 628.03,375.49 629.49,375.07 630.96,375.74 632.42,375.09 633.89,375.53 635.32,374.73 636.75,376.48 638.19,376.59 639.62,375.55 641.05,375.56 642.49,375.27 643.92,376.94 645.17,375.8 646.43,374.32 647.68,372.19 648.94,371.22 650.28,372.65 651.61,371.26 652.95,372.46 654.29,371.81 655.63,370.88 657.02,371.28 658.41,373 659.81,371.58 661.2,372.42 662.6,372.63 663.99,371.76 665.24,371.58 666.5,372.03 667.75,371.29 669.01,370.38 670.26,370.86 671.52,371.04 672.77,371.41 674.02,372.41 675.42,370.27 676.81,370.65 678.21,368.16 679.46,368.85 680.71,371.44 682.39,367.08 684.06,365.93 685.73,366.69 687.4,366.84 689.08,366.52 690.75,364.89 692,364.91 693.26,364.12 694.51,366.89 695.77,365.83 697.32,365.83 698.88,365.5 700.44,365.46 702,366.2 703.37,365.86 704.74,366.54 706.11,368.46 707.47,368.17 708.73,369.1 709.98,369.86 711.24,368.89 712.49,370.96 713.75,369.58 715,370.3 716.25,370.62 717.51,370.41 718.76,368.95 720.02,368.23 721.27,368.25 722.53,368.78 723.78,368.55 725.03,367.5 726.29,367.38 727.54,368 728.8,369.34 730.05,369.09 731.31,368.93 732.56,366.61 733.82,365.91 735.07,364.53 736.46,363.42 737.86,363.07 739.25,362.07 740.71,362.64 742.18,363.15 743.64,363.39 745.1,364.22 746.36,363.76 747.61,364.06 748.87,363.16 750.12,360.99 751.38,361.14 752.63,360.5 753.89,360.87 755.14,361.92 756.81,363.11 758.48,363.33 759.74,363.41 760.99,361.41 762.25,359.4 763.5,356.66 764.76,356 766.01,355.5 767.26,356.81 768.52,355.06 769.77,355.89 771.03,359.37 772.7,356.49 774.37,354.06 775.63,356.69 776.88,358.76 778.14,360.85 779.39,365.17 780.64,362.47 781.9,358.27 783.57,356.3 785.24,354.49 786.92,352.05 788.59,353.97 789.84,353.94 791.1,356.65 792.35,354.65 793.61,353.73 794.86,354.25 796.11,355.11 797.37,356.21 798.62,357.28 800.3,356.52 801.97,356.69 803.22,358.23 804.48,357.54 805.73,358.91 806.99,360.5 808.32,360.59 809.66,361.2 811,364.1 812.34,364.33 813.68,365.01 815.01,365.67 816.35,364.78 817.69,365.01 819.03,364.47 820.37,365.14 822.04,361.53 823.71,358.74 824.97,359.31 826.22,358.89 827.47,358.38 828.73,357.99 830.4,359.91 832.07,359.49 833.75,359.29 835.42,355.3 836.76,357.19 838.09,356.44 839.43,357.11 840.77,357.93 842.11,355.84 843.45,356.35 844.78,355.72 846.12,356 847.46,355.69 848.8,356.5 850.05,356.72 851.31,355.12 852.56,355.27 853.82,354.36 855.21,355.39 856.6,356.7 858,357.58 859.67,358.61 861.34,356.46 862.74,357.95 864.13,358.7 865.52,358 867.2,358.1 868.87,358.1 870.54,358.93 872.21,360.59 873.89,358.03 875.56,358.65 876.81,358.13 878.07,357.23 879.32,355.99 880.57,354.67 881.83,354.18 883.08,354.33 884.34,355.55 885.59,356.11" fill="none" stroke="#38964f" stroke-width="4.1" stroke-linejoin="round" stroke-linecap="round"/>
<polyline points="597.93,368.66 599.32,369.06 600.71,368.82 602.11,370.39 603.36,368.32 604.62,368.27 605.87,367.21 607.13,366.77 608.46,368.22 609.8,365.96 611.14,366.84 612.48,366.27 613.82,366.59 615.21,367.59 616.6,365.15 618,365.18 619.39,363.99 620.78,364.1 622.18,362.67 623.43,362.37 624.69,363.47 625.94,363.82 627.2,365.24 628.59,363.8 629.98,362.02 631.38,362.42 632.77,361.89 634.16,362.89 635.56,362.58 636.81,362.82 638.07,363.55 639.32,362.59 640.57,362.96 641.83,363.22 643.08,363.03 644.34,363.43 645.59,363.04 646.93,363.18 648.27,363.16 649.61,360.96 650.94,362.71 652.28,360.79 653.95,361.03 655.63,361.89 657.02,361.55 658.41,360.01 659.81,360.03 661.2,360.63 662.6,361.82 663.99,361.88 665.24,362.47 666.5,361.13 667.75,359.62 669.01,360.43 670.47,358.51 671.93,357.75 673.4,355.68 674.86,354.82 676.2,352.51 677.54,352.36 678.87,353.83 680.21,351.03 681.55,353.04 683.22,349.66 684.9,344.3 686.29,341.99 687.68,341.64 689.08,339.41 690.75,339.77 692.42,339.97 693.68,340.19 694.93,339.14 696.18,338.49 697.44,340.22 698.96,337.22 700.48,333.73 702,328.9 703.43,330.03 704.86,329.81 706.29,331.34 707.72,333.15 709.15,333.67 710.82,336.91 712.49,341.1 713.75,342.75 715,343.6 716.67,341.36 718.34,340.06 719.74,336.57 721.13,332.6 722.53,330.93 723.78,332.4 725.03,331.92 726.37,331.54 727.71,330.67 729.05,327.52 730.39,326.25 731.72,326.17 733.12,323.9 734.51,321.59 735.91,320.08 737.58,322.44 739.25,324.69 740.92,328.16 742.6,330.93 744.27,325.27 745.94,322.2 747.2,322.55 748.45,324.51 749.7,319.61 750.96,317.26 752.35,316.92 753.75,317.05 755.14,317.65 756.39,317.84 757.65,316.39 758.9,314.85 760.16,313.39 761.41,312.64 762.67,311.72 763.92,310.92 765.17,310.58 766.85,307.99 768.52,316.28 769.77,316.21 771.03,314.99 772.28,311.91 773.54,309.43 774.79,310.59 776.05,308.02 777.3,308.63 778.55,308.01 779.89,306.58 781.23,306.06 782.57,307.47 783.91,305.78 785.24,306.9 786.58,308 787.92,306.68 789.26,306.29 790.6,305.75 791.93,306.26 793.19,307.15 794.44,307.45 795.7,309.81 796.95,310.39 798.21,310.48 799.46,308.68 800.71,308.85 801.97,310.39 803.36,309.96 804.76,312.85 806.15,315.97 807.54,314.71 808.94,314.97 810.33,316.33 812,317.84 813.68,320.57 815.35,320.71 817.02,320.47 818.69,323.08 820.37,324.95 822.04,320.84 823.71,317.22 824.97,313.4 826.22,312.42 827.47,312.85 828.73,310.9 829.98,311.01 831.24,309.82 832.49,309.78 833.75,310.37 835.42,313.65 837.09,314.95 838.76,311.45 840.44,309.7 841.69,314.5 842.94,317.93 844.2,314.95 845.45,314.28 846.71,313.59 847.96,313.43 849.22,312.84 850.47,311.44 852.14,309.69 853.82,306.43 855.49,303.23 857.16,296.6 858.83,300.6 860.51,302.2 861.76,302.41 863.01,300.88 864.27,300.29 865.52,300.92 866.78,302.53 868.03,305.47 869.43,301.9 870.82,298.67 872.21,294.31 873.89,291.81 875.14,289.91 876.39,287.63 878.07,289.52 879.74,289.74 880.99,286.76 882.25,280.19 883.92,280.99 885.59,280.02" fill="none" stroke="#4233dc" stroke-width="4.1" stroke-linejoin="round" stroke-linecap="round"/>
<polyline points="583.71,427.65 585.1,425.34 586.5,422.39 587.89,419.42 589.15,422.72 590.4,423.67 592.07,422.93 593.75,422.4 595,423.57 596.25,424.96 597.51,424.43 598.76,426.23 600.02,425.89 601.27,423.9 602.53,423.2 603.78,423.05 605.03,423.84 606.29,422.6 607.54,422.59 608.8,422 610.47,427.57 612.14,433.58 613.82,420.01 615.49,448.34 617.16,422.47 618.83,422.59 620.51,423.21 621.76,422.06 623.01,421.59 624.27,420.8 625.52,420.66 626.86,419.17 628.2,420.24 629.54,420.07 630.87,421.45 632.21,421.79 633.55,420.41 634.89,420.03 636.23,420.39 637.56,420.55 638.9,421.55 640.24,420.76 641.58,421.51 642.92,420.52 644.25,421.01 645.59,420.27 647.26,419.61 648.94,417.64 650.19,418.2 651.45,418.18 652.7,417.03 653.95,415.83 655.21,418.16 656.46,418.59 657.72,417.97 658.97,418.42 660.37,419.01 661.76,417.13 663.15,416.74 664.62,418 666.08,418.25 667.54,418.57 669.01,419.17 670.26,419.73 671.52,420.78 672.77,421.61 674.02,422.84 675.42,422.18 676.81,421.31 678.21,420.98 679.46,421.81 680.71,422.65 681.97,420.28 683.22,418.73 684.62,420.7 686.01,424.12 687.4,426.29 689.08,425.57 690.75,424.02 692,424.55 693.26,425.21 694.51,425.93 695.77,425.2 697.32,425.66 698.88,427.39 700.44,427.05 702,428.8 703.44,428.13 704.89,427.15 706.33,427.98 707.78,427.01 709.22,427.01 710.67,427.57 712.11,426.92 713.56,425.29 715,426 716.25,426.7 717.51,426.58 718.76,429.2 720.02,429.31 721.27,429.97 722.53,428.55 723.78,429.66 725.03,428.02 726.29,430.3 727.54,429.91 728.8,429.89 730.05,432.41 731.31,431.82 732.56,429.98 733.82,430.41 735.07,429.77 736.46,427.75 737.86,427.09 739.25,427.02 740.71,426.55 742.18,428.22 743.64,429.06 745.1,429.91 746.36,429.78 747.61,430.62 748.87,429.6 750.12,430.11 751.38,429.71 752.63,428.61 753.89,429.13 755.14,429.4 756.81,430.07 758.48,430.28 759.74,430.01 760.99,430.12 762.25,428.87 763.5,428.66 764.76,429.43 766.01,427.62 767.26,427.22 768.52,426.9 769.86,428.19 771.2,427.6 772.53,429.56 773.87,429.8 775.21,430.73 776.6,432.16 778,433.44 779.39,434.38 780.78,432.07 782.18,430.87 783.57,428.05 784.83,428.05 786.08,428.92 787.33,428.53 788.59,427.35 789.84,429.7 791.1,431.71 792.49,430.16 793.89,430.37 795.28,428.54 796.62,428.42 797.95,428.8 799.29,428.35 800.63,429.13 801.97,428.3 803.31,428.36 804.64,429.85 805.98,430.22 807.32,430.42 808.66,429.32 810,429.99 811.33,429.94 812.67,431.7 814.01,431.42 815.35,430.93 816.69,431.95 818.02,429.22 819.36,428.32 820.7,429.36 822.04,427.54 823.43,429.07 824.83,429.12 826.22,428.77 827.61,430.17 829.01,431.43 830.4,430.43 831.66,431.44 832.91,429.83 834.16,429.52 835.42,428.43 836.76,429.12 838.09,428.11 839.43,427.71 840.77,426.52 842.11,427.65 843.45,426.76 844.78,428.04 846.12,427.06 847.46,427.62 848.8,429.1 850.05,428.26 851.31,428.86 852.56,428.99 853.82,428.16 855.49,430.9 857.16,432.92 858.41,431.75 859.67,433.09 860.92,431.98 862.18,432.3 863.43,431.68 864.69,431.53 865.94,430.26 867.2,431.26 868.45,431.68 869.7,432.17 870.96,432.65 872.21,433.63 873.47,433.1 874.72,434.11 875.98,433.29 877.23,432.35 878.48,433.48 879.74,434.33 880.99,434.61 882.25,432.91 883.92,434.19 885.59,434" fill="none" stroke="#8b8b8b" stroke-width="1.9" stroke-linejoin="round" stroke-linecap="round"/>
<line x1="702" y1="237.8" x2="702" y2="462.4" stroke="#5e5e5e" stroke-width="1.6"/>
<line x1="715" y1="237.8" x2="715" y2="462.4" stroke="#8c8c8c" stroke-width="1.1"/>
<circle cx="702" cy="328.9" r="5.7" fill="#4233dc"/>
<circle cx="715" cy="343.6" r="5.7" fill="#4233dc"/>
<circle cx="702" cy="366.2" r="5.7" fill="#38964f"/>
<circle cx="715" cy="370.3" r="5.7" fill="#38964f"/>
<circle cx="702" cy="428.8" r="5.7" fill="#8b8b8b"/>
<circle cx="715" cy="426" r="5.7" fill="#8b8b8b"/>
<text x="899" y="284.8" font-size="12.57" fill="#4233dc" textLength="23.4" lengthAdjust="spacingAndGlyphs">매매</text>
<text x="899" y="360.9" font-size="12.57" fill="#38964f" textLength="23.4" lengthAdjust="spacingAndGlyphs">전세</text>
<text x="899" y="427.84" font-size="11.54" fill="#9a9a9a" textLength="21.76" lengthAdjust="spacingAndGlyphs">평균</text>
<text x="899" y="443.01" font-size="11.74" fill="#9a9a9a" textLength="35" lengthAdjust="spacingAndGlyphs">55.6%</text>
<rect x="582.9" y="180.1" width="251.4" height="57.7" fill="#5b63d8" rx="2.5"/>
<path d="M702.1 237.3L708.3 244.3L714.5 237.3Z" fill="#5b63d8"/>
<text x="597.1" y="200.4" font-size="16" fill="#fff" textLength="186.4" lengthAdjust="spacingAndGlyphs" stroke="#fff" stroke-width="0.35">2018.09~2019.03 (6개월)</text>
<text x="597.1" y="225" font-size="16" fill="#fff" textLength="100.7" lengthAdjust="spacingAndGlyphs" stroke="#fff" stroke-width="0.35">매매 -19.73%</text>
<text x="710.9" y="225" font-size="16" fill="#fff" text-anchor="middle" stroke="#fff" stroke-width="0.35">/</text>
<text x="725" y="225" font-size="16" fill="#fff" textLength="94" lengthAdjust="spacingAndGlyphs" stroke="#fff" stroke-width="0.35">전세 -9.66%</text>
<path d="M486.7 519.8L700.3 519.8L708.3 511.8L716.3 519.8L941.6 519.8" fill="none" stroke="#dcdcdc" stroke-width="1.3"/>
<text x="500.2" y="567.02" font-size="16.07" fill="#7b7f8a" textLength="262.9" lengthAdjust="spacingAndGlyphs">2018년 09월~2019년 03월 (6개월)</text>
<line x1="908.8" y1="549.5" x2="924.8" y2="565.5" stroke="#1c1c1c" stroke-width="2.1" stroke-linecap="round"/>
<line x1="924.8" y1="549.5" x2="908.8" y2="565.5" stroke="#1c1c1c" stroke-width="2.1" stroke-linecap="round"/>
<text x="500.2" y="613.44" font-size="18.13" fill="#4233dc" textLength="35" lengthAdjust="spacingAndGlyphs">매매</text>
<text x="549.4" y="615.54" font-size="25.54" fill="#4233dc" font-weight="700" textLength="98.3" lengthAdjust="spacingAndGlyphs">-19.73%</text>
<text x="929.6" y="614.05" font-size="19.57" fill="#4233dc" text-anchor="end" textLength="94.5" lengthAdjust="spacingAndGlyphs">-2억 9,000</text>
<text x="500.2" y="656.14" font-size="18.13" fill="#38964f" textLength="35" lengthAdjust="spacingAndGlyphs">전세</text>
<text x="549.4" y="658.24" font-size="25.54" fill="#38964f" font-weight="700" textLength="88.3" lengthAdjust="spacingAndGlyphs">-9.66%</text>
<text x="929.6" y="656.75" font-size="19.57" fill="#38964f" text-anchor="end" textLength="53.7" lengthAdjust="spacingAndGlyphs">-7,241</text>
<rect x="492.2" y="583.3" width="448.2" height="43" fill="none" stroke="#ff0000" stroke-width="5.2"/>
</g>
<g>
<rect x="967.5" y="15" width="456.2" height="48.5" fill="#05232f"/>
<rect x="970.3" y="17.8" width="450.6" height="42.9" fill="#000"/>
<rect x="967.6" y="62.6" width="456.3" height="112.8" fill="#594de4"/>
<text x="1194.8" y="52.2" font-size="35" fill="#fff" font-weight="300" text-anchor="middle" textLength="67" lengthAdjust="spacingAndGlyphs" stroke="#fff" stroke-width="0.45">중구</text>
<polyline points="1008.78,70.2 997.09,80.9 1008.78,91.8" fill="none" stroke="#fff" stroke-width="1.9" stroke-linejoin="round" stroke-linecap="round"/>
<text x="1035.9" y="87.35" font-size="17" fill="#fff" font-weight="500" textLength="124.2" lengthAdjust="spacingAndGlyphs">신당동 남산타운</text>
<path d="M1295.19 73.2L1279.13 80.8L1294.17 89.4" fill="none" stroke="#fff" stroke-width="1.9"/>
<circle cx="1295.19" cy="73.2" r="3.3" fill="#594de4" stroke="#fff" stroke-width="1.9"/>
<circle cx="1279.13" cy="80.8" r="3.3" fill="#594de4" stroke="#fff" stroke-width="1.9"/>
<circle cx="1294.17" cy="89.4" r="3.3" fill="#594de4" stroke="#fff" stroke-width="1.9"/>
<path d="M1324.95 89.7C1326.79 89.1 1327.19 86.6 1327.19 84.1L1327.19 79.6C1327.19 71.7 1332.08 68.5 1338.06 68.5C1344.04 68.5 1348.93 71.7 1348.93 79.6L1348.93 84.1C1348.93 86.6 1349.33 89.1 1351.17 89.7Z" fill="#fff" stroke="#fff" stroke-width="1"/>
<line x1="1324.65" y1="89.5" x2="1351.47" y2="89.5" stroke="#fff" stroke-width="1.7" stroke-linecap="round"/>
<line x1="1332.98" y1="92.7" x2="1343.14" y2="92.7" stroke="#fff" stroke-width="1.5" stroke-linecap="round"/>
<line x1="1338.06" y1="67.3" x2="1338.06" y2="69.5" stroke="#fff" stroke-width="1.8"/>
<line x1="1377.89" y1="70.6" x2="1398.82" y2="91.6" stroke="#fff" stroke-width="1.7"/>
<line x1="1398.82" y1="70.6" x2="1377.89" y2="91.6" stroke="#fff" stroke-width="1.7"/>
<rect x="985.1" y="119.7" width="136.65" height="44.9" fill="#6256f1" rx="11.5"/>
<rect x="1127.34" y="119.7" width="136.35" height="44.9" fill="#6256f1" rx="11.5"/>
<rect x="1269.28" y="119.7" width="136.45" height="44.9" fill="#6256f1" rx="11.5"/>
<text x="1000.44" y="149.26" font-size="18.6" fill="#fff" font-weight="700" textLength="33.53" lengthAdjust="spacingAndGlyphs">매매</text>
<text x="1142.79" y="149.55" font-size="20" fill="#fff" font-weight="700" textLength="41.25" lengthAdjust="spacingAndGlyphs">32평</text>
<polyline points="1089.34,138.15 1096.86,146.35 1104.38,138.15" fill="none" stroke="#fff" stroke-width="1.9" stroke-linejoin="round" stroke-linecap="round"/>
<polyline points="1231.58,138.15 1239.1,146.35 1246.62,138.15" fill="none" stroke="#fff" stroke-width="1.9" stroke-linejoin="round" stroke-linecap="round"/>
<text x="1297.7" y="149.35" font-size="20" fill="#fff" font-weight="700" textLength="53.4" lengthAdjust="spacingAndGlyphs">2,232</text>
<path d="M1374.62 150.85L1369.98 149.1A8.3 8.3 0 1 1 1373.63 145.78Z" fill="none" stroke="#fff" stroke-width="1.8" stroke-linejoin="round"/>
<rect x="1022.7" y="408.9" width="338.4" height="49.4" fill="#f7f7f7"/>
<line x1="1022.7" y1="252" x2="1361.1" y2="252" stroke="#e4e4e4" stroke-width="1.2"/>
<line x1="1022.7" y1="290.4" x2="1361.1" y2="290.4" stroke="#e4e4e4" stroke-width="1.2"/>
<line x1="1022.7" y1="328.9" x2="1361.1" y2="328.9" stroke="#e4e4e4" stroke-width="1.2"/>
<line x1="1022.7" y1="367" x2="1361.1" y2="367" stroke="#e4e4e4" stroke-width="1.2"/>
<line x1="1022.7" y1="405.4" x2="1361.1" y2="405.4" stroke="#e4e4e4" stroke-width="1.2"/>
<text x="1009.6" y="257.2" font-size="14" fill="#777a80" text-anchor="end" textLength="27.1" lengthAdjust="spacingAndGlyphs">20억</text>
<text x="1009.6" y="295.6" font-size="14" fill="#777a80" text-anchor="end" textLength="27.1" lengthAdjust="spacingAndGlyphs">15억</text>
<text x="1009.6" y="334.1" font-size="14" fill="#777a80" text-anchor="end" textLength="27.1" lengthAdjust="spacingAndGlyphs">10억</text>
<text x="1009.6" y="372.2" font-size="14" fill="#777a80" text-anchor="end">5억</text>
<text x="1009.6" y="410.6" font-size="14" fill="#777a80" text-anchor="end">0</text>
<line x1="1023.3" y1="435.5" x2="1364" y2="435.5" stroke="#a3a3a3" stroke-width="1.6" stroke-dasharray="1.7 4.4"/>
<text x="970.4" y="436.97" font-size="12.2" fill="#666" textLength="46.8" lengthAdjust="spacingAndGlyphs">전세가율</text>
<line x1="967.6" y1="462.8" x2="1423.6" y2="462.8" stroke="#dcdcdc" stroke-width="1.4"/>
<text x="1023.2" y="485.86" font-size="15.6" fill="#777a80" text-anchor="middle" textLength="29.8" lengthAdjust="spacingAndGlyphs">2006</text>
<text x="1057.5" y="485.86" font-size="15.6" fill="#777a80" text-anchor="middle" textLength="29.8" lengthAdjust="spacingAndGlyphs">2008</text>
<text x="1091.8" y="485.86" font-size="15.6" fill="#777a80" text-anchor="middle" textLength="29.8" lengthAdjust="spacingAndGlyphs">2010</text>
<text x="1126.1" y="485.86" font-size="15.6" fill="#777a80" text-anchor="middle" textLength="29.8" lengthAdjust="spacingAndGlyphs">2012</text>
<text x="1160.4" y="485.86" font-size="15.6" fill="#777a80" text-anchor="middle" textLength="29.8" lengthAdjust="spacingAndGlyphs">2014</text>
<text x="1194.7" y="485.86" font-size="15.6" fill="#777a80" text-anchor="middle" textLength="29.8" lengthAdjust="spacingAndGlyphs">2016</text>
<text x="1229" y="485.86" font-size="15.6" fill="#777a80" text-anchor="middle" textLength="29.8" lengthAdjust="spacingAndGlyphs">2018</text>
<text x="1263.3" y="485.86" font-size="15.6" fill="#777a80" text-anchor="middle" textLength="29.8" lengthAdjust="spacingAndGlyphs">2020</text>
<text x="1297.6" y="485.86" font-size="15.6" fill="#777a80" text-anchor="middle" textLength="29.8" lengthAdjust="spacingAndGlyphs">2022</text>
<text x="1331.9" y="485.86" font-size="15.6" fill="#777a80" text-anchor="middle" textLength="29.8" lengthAdjust="spacingAndGlyphs">2024</text>
<path d="M1108.59 372.81L1109.98 372.7L1111.38 373.26L1112.77 372.88L1114.16 373.36L1115.56 369.44L1116.81 366.38L1118.07 373.15L1119.32 365.8L1120.57 370.78L1121.91 358.75L1123.25 367.15L1124.59 372.6L1125.93 372.18L1127.26 370.21L1128.52 371.66L1129.77 359.28L1131.03 370.71L1132.28 367.95L1133.62 369.15L1134.96 369.6L1136.3 369.47L1137.63 370.43L1138.97 367.65L1140.31 364.47L1141.65 364.48L1142.99 367.56L1144.32 369.56L1145.66 366.38L1147 370.18L1148.34 362.22L1149.68 357.89L1151.01 363.33L1152.35 366.41L1153.69 356.57L1155.03 361.65L1156.37 365.69L1157.7 366.43L1159.04 366.94L1160.38 363.1L1161.72 367.23L1163.06 357.31L1164.39 363.93L1165.73 366.58L1167.07 365.63L1168.41 363.52L1169.75 361.67L1171.08 364.95L1172.42 357.97L1173.76 358.89L1175.1 359.07L1176.44 360.95L1177.77 362.11L1179.11 359.65L1180.45 362.45L1181.79 355.34L1183.13 354.39L1184.46 357.4L1185.8 357.73L1187.12 359.21L1188.43 359.1L1189.74 354.01L1191.06 363.88L1192.37 362.18L1193.69 363.41L1195 362.52L1196.34 361.22L1197.68 363.5L1199.01 364.85L1200.35 364.41L1201.69 364.78L1203.2 365.24L1204.7 363.76L1206.21 362.85L1207.71 362.85L1209.22 361.62L1210.72 361.92L1212.23 361.36L1213.73 361.45L1215.24 363L1216.74 362.18L1218.14 363.03L1219.53 361.52L1220.92 361.67L1222.32 360.71L1223.71 361.51L1225.1 360.99L1226.5 361.09L1227.89 360.88L1229.29 361.42L1230.68 360.84L1232.07 360.87L1233.47 362.13L1234.94 363.71L1236.42 362.15L1237.9 361.98L1239.38 361.45L1240.85 361.39L1242.33 360.75L1243.88 362.45L1245.43 361.36L1246.97 364.15L1248.52 365.03L1249.86 361.67L1251.2 362.83L1252.53 361.55L1253.87 361.47L1255.21 360.57L1256.46 362.85L1257.72 362.42L1258.97 360.19L1260.23 362.34L1261.48 360.56L1262.74 359.31L1263.99 359.16L1265.24 359.11L1266.5 358.33L1267.75 357.94L1269.01 359.84L1270.26 356.93L1271.52 357.37L1272.77 349.12L1274.02 354.55L1275.28 348.21L1276.95 338.1L1278.62 349.12L1280.3 342.55L1281.97 329.87L1283.64 350.12L1285.31 343.77L1286.99 343.9L1288.66 342.28L1290.33 338.22L1291.59 341.52L1292.84 343.39L1294.09 348.09L1295.35 351.02L1297.02 341.77L1298.69 341.94L1299.95 347.36L1301.2 351.19L1302.6 347.47L1303.99 348.25L1305.38 351.83L1307.06 346.27L1308.73 334.83L1309.98 343.14L1311.24 348.7L1312.7 346.52L1314.16 350.94L1315.63 350.33L1317.09 349.81L1318.76 352.15L1320.44 353.98L1322.11 346.24L1323.78 345.19L1325.03 345.23L1326.29 345.67L1327.54 348.57L1328.8 344.49L1330.05 337.77L1331.31 346.5L1332.56 345.17L1333.82 347.45L1335.07 342.15L1336.32 342.1L1337.58 343.74L1338.83 347.83L1340.51 343.61L1342.18 338.29L1343.43 342.2L1344.69 344.96L1346.08 342.93L1347.47 347.17L1348.87 338.59L1350.54 346.05L1352.21 348.1L1353.89 345.25L1355.56 347.23L1356.81 342.6L1358.07 345.17L1359.32 342.25L1360.57 339.49L1360.57 363.45L1359.32 364.26L1358.07 364.74L1356.81 369.74L1355.56 364.16L1353.89 368.39L1352.21 368.92L1350.54 363.97L1348.87 367.16L1347.47 379.72L1346.08 364.82L1344.69 365.14L1343.43 367.87L1342.18 379.72L1340.51 362.99L1338.83 369.77L1337.58 367.92L1336.32 361.53L1335.07 367.08L1333.82 369.45L1332.56 367.97L1331.31 378.94L1330.05 368.16L1328.8 368.5L1327.54 367.99L1326.29 368.01L1325.03 365.21L1323.78 366.58L1322.11 367.15L1320.44 374.41L1318.76 370.37L1317.09 367.12L1315.63 367L1314.16 369.43L1312.7 372.26L1311.24 368.67L1309.98 364.89L1308.73 378.06L1307.06 365.49L1305.38 371.57L1303.99 372.44L1302.6 373.27L1301.2 364.92L1299.95 360.94L1298.69 365.12L1297.02 363.29L1295.35 364.03L1294.09 387.22L1292.84 368.74L1291.59 363.98L1290.33 359.29L1288.66 364L1286.99 365.77L1285.31 370.82L1283.64 371.03L1281.97 362.12L1280.3 361.47L1278.62 367.31L1276.95 377.96L1275.28 374.46L1274.02 374.81L1272.77 369.46L1271.52 365.56L1270.26 364.24L1269.01 366.17L1267.75 366.8L1266.5 368.86L1265.24 366.68L1263.99 367.73L1262.74 367.46L1261.48 368.15L1260.23 367.15L1258.97 368.81L1257.72 368.44L1256.46 367.96L1255.21 368.23L1253.87 369.52L1252.53 369.66L1251.2 368.71L1249.86 370.84L1248.52 370.28L1246.97 368.85L1245.43 368.83L1243.88 368.75L1242.33 368.67L1240.85 368.46L1239.38 368.11L1237.9 367.8L1236.42 369.26L1234.94 368.39L1233.47 369.72L1232.07 368.38L1230.68 368.6L1229.29 368.8L1227.89 369.48L1226.5 368.39L1225.1 369.42L1223.71 368.99L1222.32 369.36L1220.92 368.13L1219.53 368.8L1218.14 369.69L1216.74 373.28L1215.24 368.38L1213.73 368.54L1212.23 368.02L1210.72 368.23L1209.22 367.31L1207.71 367.74L1206.21 368.41L1204.7 370.7L1203.2 370.49L1201.69 370.57L1200.35 371.36L1199.01 370.49L1197.68 368.78L1196.34 368.71L1195 369.2L1193.69 367.97L1192.37 370.01L1191.06 369.53L1189.74 370.03L1188.43 369.45L1187.12 370.04L1185.8 370.17L1184.46 371.23L1183.13 371.73L1181.79 371.57L1180.45 371.25L1179.11 371.64L1177.77 371.77L1176.44 372.2L1175.1 373.81L1173.76 374.08L1172.42 373.7L1171.08 374.32L1169.75 374.91L1168.41 376.97L1167.07 375.85L1165.73 374.97L1164.39 375.32L1163.06 375.52L1161.72 375.35L1160.38 376.09L1159.04 376.18L1157.7 376.02L1156.37 376.74L1155.03 377.49L1153.69 378.03L1152.35 378.43L1151.01 378.76L1149.68 379.12L1148.34 382.43L1147 379.96L1145.66 379.21L1144.32 379.38L1142.99 380.85L1141.65 381.21L1140.31 381.49L1138.97 381.01L1137.63 381.07L1136.3 381.28L1134.96 381.97L1133.62 383.01L1132.28 382.99L1131.03 382.64L1129.77 382.25L1128.52 382.11L1127.26 382.45L1125.93 381.94L1124.59 381.86L1123.25 381.95L1121.91 381.13L1120.57 383.29L1119.32 382.12L1118.07 382.89L1116.81 382.67L1115.56 383.36L1114.16 384.11L1112.77 385.71L1111.38 387.36L1109.98 387.21L1108.59 386.27Z" fill="#cfe9d4" fill-opacity="0.75"/>
<path d="M1023.57 363.28L1025.24 363.98L1026.92 363.89L1028.59 362.31L1030.26 364.08L1031.93 363.27L1033.61 360.89L1035.28 358.25L1036.53 357.3L1037.79 355.15L1039.04 355.18L1040.3 352.57L1041.97 354.34L1043.64 357.69L1045.31 358.28L1046.99 357.76L1048.66 355.33L1050.33 353.03L1051.59 355.03L1052.84 356.27L1054.09 356.77L1055.35 358.98L1056.6 356.96L1057.86 354.47L1059.11 354.94L1060.37 353.42L1061.76 352.63L1063.15 352.33L1064.55 353.58L1065.94 355.7L1067.33 354.79L1068.73 356.47L1069.98 358.06L1071.24 359.41L1072.49 360.23L1073.75 363.07L1075 360.9L1076.25 358.37L1077.51 362.17L1078.76 359.85L1080.02 359.41L1081.27 359.26L1082.53 351.84L1083.78 355.75L1085.03 355.93L1086.29 355.76L1087.54 355.35L1088.8 354.13L1090.05 356.75L1091.31 356.92L1092.98 350.39L1094.23 354.06L1095.49 355.49L1096.74 356.83L1098 358.55L1099.25 359.24L1100.51 359.8L1101.76 358.96L1103.01 358.66L1104.27 355.55L1105.52 359.8L1106.99 356.4L1108.45 356L1109.91 353.86L1111.38 352.15L1112.77 354.89L1114.16 356.72L1115.56 358.64L1116.81 357.25L1118.07 356.28L1119.32 358.24L1120.57 353.91L1121.83 357.93L1123.08 358.69L1124.34 357.88L1125.59 357.92L1126.99 357.86L1128.38 359.1L1129.77 357.97L1131.03 359.61L1132.28 360.27L1133.54 359.98L1134.79 361.38L1136.46 355.36L1138.14 350.77L1139.81 359.39L1141.2 361.28L1142.6 362.66L1143.99 363.84L1145.66 360.63L1147.33 358.09L1149.01 361.11L1150.68 362.83L1152.02 360.88L1153.36 359.26L1154.69 360.3L1156.03 361.93L1157.37 361.41L1158.76 359.2L1160.16 360.5L1161.55 359.13L1162.94 360.24L1164.34 360.64L1165.73 358.86L1166.99 359.89L1168.24 360.06L1169.49 360.63L1170.75 358.78L1172.14 358.96L1173.54 355.35L1174.93 354.69L1176.32 353.59L1177.72 356.97L1179.11 355.5L1180.45 357.37L1181.79 354.49L1183.13 355.37L1184.46 353.79L1185.8 353.56L1187.06 353.89L1188.31 355.91L1189.56 356.81L1190.82 357.99L1192.21 355.78L1193.61 356.01L1195 355.52L1196.25 356.41L1197.51 355.51L1198.76 357.45L1200.02 357.39L1201.27 356.1L1202.53 353.78L1203.78 349.59L1205.03 353.39L1206.29 352.89L1207.54 352.99L1208.8 351.02L1210.05 351.38L1211.72 348.01L1213.4 345.87L1215.07 348.97L1216.74 349.67L1218.14 350.45L1219.53 349.58L1220.92 349.61L1222.32 345.55L1223.71 345.43L1225.1 342.01L1226.78 344.32L1228.45 344.59L1230.12 338.29L1231.79 330.9L1233.19 333L1234.58 336.59L1235.98 336.35L1237.65 329.48L1239.32 323.48L1240.83 322.98L1242.33 322.79L1243.75 321.19L1245.17 330.31L1246.85 331.25L1248.52 334.01L1249.91 330.52L1251.31 330.98L1252.7 326.88L1254.09 325.3L1255.49 324.62L1256.88 321.27L1258.14 325.05L1259.39 327.14L1261.06 324.26L1262.74 320.75L1264.13 319.89L1265.52 320.57L1266.92 319.41L1268.59 320.26L1270.26 323.12L1271.52 319.35L1272.77 315.77L1274.44 311.61L1276.11 310.27L1277.51 305.76L1278.9 299.99L1280.3 293.74L1281.97 297.15L1283.64 298.6L1285.31 294.27L1286.99 287.79L1288.66 294.1L1290.33 288.25L1292 284.73L1293.26 286.07L1294.51 285.93L1295.77 286.79L1297.02 287L1298.53 284.84L1300.03 281.38L1302.04 288.35L1303.71 306.53L1305.38 306.39L1307.06 305.09L1308.73 293.01L1310.12 292.79L1311.52 292.11L1312.91 293.68L1313.75 310.18L1315.42 310.96L1317.09 312.22L1318.76 310.33L1320.44 309.68L1321.27 316.18L1322.53 311.69L1323.78 307.79L1325.03 307.07L1326.29 304.77L1327.54 304.35L1328.8 302.67L1330.47 307.23L1332.14 313.34L1333.4 308.69L1334.65 306.62L1336.05 304.49L1337.44 306L1338.83 304.44L1340.34 298.23L1341.84 293.09L1343.85 298.44L1345.52 302.4L1347.2 308.09L1348.45 305.22L1349.7 303.63L1350.96 301.25L1352.21 297.87L1353.47 298.2L1354.72 296.42L1355.98 292.26L1357.23 286.14L1358.62 287.72L1360.02 288.7L1361.41 288.28L1361.41 299.44L1360.02 297.09L1358.62 294.44L1357.23 297.34L1355.98 299.45L1354.72 304.96L1353.47 305.54L1352.21 309.74L1350.96 309.59L1349.7 314.61L1348.45 316.32L1347.2 319.25L1345.52 312.13L1343.85 311.43L1341.84 302.91L1340.34 306.34L1338.83 316.66L1337.44 316.92L1336.05 317.02L1334.65 319.38L1333.4 317.63L1332.14 325.07L1330.47 316.68L1328.8 312.64L1327.54 315.99L1326.29 317.67L1325.03 315.35L1323.78 315.22L1322.53 322.7L1321.27 325.49L1320.44 317.91L1318.76 320.78L1317.09 319.71L1315.42 330.4L1313.75 318.54L1312.91 301.79L1311.52 303.22L1310.12 301.63L1308.73 302.12L1307.06 316.07L1305.38 313.68L1303.71 314.62L1302.04 297.93L1300.03 292.56L1298.53 294.54L1297.02 297.83L1295.77 295.17L1294.51 295.45L1293.26 294.76L1292 296.81L1290.33 298.33L1288.66 301.27L1286.99 297.4L1285.31 304.42L1283.64 306.33L1281.97 307.49L1280.3 302.25L1278.9 309.21L1277.51 314.44L1276.11 317.92L1274.44 320.28L1272.77 322.08L1271.52 329.17L1270.26 331.74L1268.59 328.77L1266.92 330.33L1265.52 329.98L1264.13 331.1L1262.74 331.7L1261.06 335.16L1259.39 336.69L1258.14 335.86L1256.88 333.11L1255.49 331.39L1254.09 336.29L1252.7 339.99L1251.31 350.72L1249.91 338.13L1248.52 340.9L1246.85 339.52L1245.17 336.37L1243.75 332.17L1242.33 329.95L1240.83 328.75L1239.32 334.87L1237.65 337.26L1235.98 345.3L1234.58 342.38L1233.19 339.96L1231.79 338.91L1230.12 345.52L1228.45 351.81L1226.78 351.96L1225.1 349.39L1223.71 359.48L1222.32 354.97L1220.92 354.65L1219.53 356.63L1218.14 357.6L1216.74 358.07L1215.07 355.4L1213.4 354.63L1211.72 359.76L1210.05 358.75L1208.8 360.59L1207.54 361.15L1206.29 360.49L1205.03 360.01L1203.78 360.39L1202.53 362.08L1201.27 363.45L1200.02 362.5L1198.76 363.93L1197.51 363.89L1196.25 364.59L1195 364.57L1193.61 364.39L1192.21 363.59L1190.82 363.86L1189.56 362.46L1188.31 363.07L1187.06 361.6L1185.8 362.76L1184.46 360.77L1183.13 361.22L1181.79 363.35L1180.45 364.48L1179.11 363.26L1177.72 363.68L1176.32 363.4L1174.93 362.41L1173.54 363.48L1172.14 364.08L1170.75 368.65L1169.49 366.34L1168.24 366.67L1166.99 365.91L1165.73 365.84L1164.34 366.07L1162.94 366L1161.55 368.47L1160.16 367.29L1158.76 367.08L1157.37 367.57L1156.03 368.41L1154.69 373.92L1153.36 370.23L1152.02 369L1150.68 371.04L1149.01 368.35L1147.33 365.56L1145.66 366.75L1143.99 369.62L1142.6 369.15L1141.2 368.42L1139.81 366.41L1138.14 358.09L1136.46 363.27L1134.79 369.05L1133.54 371.61L1132.28 367.46L1131.03 365.35L1129.77 364.36L1128.38 363.79L1126.99 365.09L1125.59 366.48L1124.34 366.51L1123.08 364.92L1121.83 365.91L1120.57 364.28L1119.32 364.87L1118.07 364.46L1116.81 370.4L1115.56 364.33L1114.16 368.72L1112.77 361.04L1111.38 361.59L1109.91 361.49L1108.45 363.17L1106.99 365.04L1105.52 367.44L1104.27 371.39L1103.01 366.64L1101.76 367.31L1100.51 365.19L1099.25 364.65L1098 364.66L1096.74 363.21L1095.49 364.08L1094.23 360.16L1092.98 356.41L1091.31 365.92L1090.05 364.14L1088.8 361L1087.54 368.73L1086.29 361.32L1085.03 361.47L1083.78 363.59L1082.53 365.79L1081.27 365.41L1080.02 367.86L1078.76 368.38L1077.51 371.17L1076.25 370.09L1075 368.85L1073.75 369.85L1072.49 369.33L1071.24 367.65L1069.98 366.35L1068.73 366.1L1067.33 364.34L1065.94 361.64L1064.55 360.44L1063.15 360.86L1061.76 361.16L1060.37 360.83L1059.11 362.75L1057.86 362.02L1056.6 365.1L1055.35 365.57L1054.09 363.59L1052.84 362.65L1051.59 361.27L1050.33 361.66L1048.66 363.83L1046.99 363.91L1045.31 363.71L1043.64 363.22L1041.97 363.66L1040.3 360.08L1039.04 363.03L1037.79 363.99L1036.53 363.56L1035.28 365.89L1033.61 367.87L1031.93 372.32L1030.26 368.85L1028.59 369.25L1026.92 369.37L1025.24 371.85L1023.57 370.84Z" fill="#cfcdf6" fill-opacity="0.45"/>
<polygon points="1241.8,325.48 1242.64,326.26 1243.47,328.89 1244.31,331.65 1245.15,334.49 1245.99,335.58 1246.83,336.63 1247.66,337.17 1248.5,337.7 1248.5,367.8 1247.66,367.1 1246.83,366.57 1245.99,367.06 1245.15,367.21 1244.31,366.6 1243.47,366.24 1242.64,366.21 1241.8,366.23" fill="#f9c7b6"/>
<polyline points="1107.2,383.71 1108.59,383.57 1109.98,384.55 1111.38,384.65 1112.77,383.74 1114.16,382.75 1115.56,381.55 1116.81,380.2 1118.07,380.02 1119.32,379.18 1120.57,380.28 1121.91,379.3 1123.25,380.98 1124.59,379.31 1125.93,379.42 1127.26,380.68 1128.52,380.76 1129.77,381.64 1131.03,382 1132.28,381.23 1133.62,380.39 1134.96,381.05 1136.3,380.1 1137.63,379.28 1138.97,379.1 1140.31,378 1141.65,379.36 1142.99,377.44 1144.32,377.44 1145.66,378.14 1147,377.81 1148.34,377.47 1149.68,377.17 1151.01,377.24 1152.35,377.25 1153.69,376.97 1155.03,375.25 1156.37,374.82 1157.7,373.97 1159.04,374.35 1160.38,373.56 1161.72,375.22 1163.06,374.62 1164.39,373.21 1165.73,374.14 1167.07,373.82 1168.41,372.04 1169.75,373.41 1171.08,372.9 1172.42,371.94 1173.76,372.73 1175.1,370.35 1176.44,369.88 1177.77,371.2 1179.11,370.73 1180.45,368.81 1181.79,369.92 1183.13,369.54 1184.46,368.7 1185.8,367.76 1187.12,369.06 1188.43,368.88 1189.74,367.72 1191.06,366.56 1192.37,366.97 1193.69,366.86 1195,366.19 1196.34,367.38 1197.68,366.5 1199.01,368.58 1200.35,368.68 1201.69,367.77 1203.2,367 1204.7,367.99 1206.21,366.25 1207.71,366.94 1209.22,366.35 1210.72,365.12 1212.23,366.56 1213.73,365.64 1215.24,366.65 1216.74,366.24 1218.14,367.56 1219.53,365.85 1220.92,367.57 1222.32,366.1 1223.71,365.77 1225.1,365.05 1226.5,365.54 1227.89,365.27 1229.29,365.73 1230.68,367.64 1232.07,366.94 1233.47,365.73 1234.94,365.63 1236.41,366.4 1237.88,367.33 1239.36,366.24 1240.83,366.28 1242.3,366.2 1243.85,366.26 1245.4,367.4 1246.95,366.5 1248.5,367.8 1249.84,366.71 1251.18,367.22 1252.53,367.61 1253.87,366.39 1255.21,365.64 1256.46,366.03 1257.72,366.45 1258.97,364.82 1260.23,364.47 1261.48,365.1 1262.74,364.51 1263.99,363.84 1265.24,363.79 1266.5,364.93 1267.75,362.93 1269.01,362.84 1270.26,363.87 1271.52,362.08 1272.77,363.03 1274.02,362.36 1275.28,361.08 1276.95,350.17 1278.62,359.14 1280.3,353.34 1281.97,346.98 1283.64,358.12 1285.31,355.1 1286.99,356.06 1288.66,352.2 1290.33,347.84 1291.59,351.56 1292.84,356.55 1294.09,356.18 1295.35,355.82 1297.02,353.4 1298.69,350.85 1299.95,353.04 1301.2,357.74 1302.6,357.01 1303.99,357.47 1305.38,359.44 1307.06,351.25 1308.73,346.38 1309.98,350.97 1311.24,356.43 1312.7,358.42 1314.16,357.65 1315.63,358.36 1317.09,359.57 1318.76,360.25 1320.44,360.24 1322.11,358.61 1323.78,357.74 1325.03,355.65 1326.29,354.33 1327.54,353.96 1328.8,353.08 1330.05,353.77 1331.31,353.18 1332.56,355.05 1333.82,355.6 1335.07,353.94 1336.32,354.94 1337.58,354.42 1338.83,355.61 1340.51,352.22 1342.18,349.06 1343.43,352.03 1344.69,354.96 1346.08,355.06 1347.47,355.53 1348.87,354.4 1350.54,355.81 1352.21,356.97 1353.89,358.24 1355.56,357.99 1356.81,353.99 1358.07,352.43 1359.32,350.55 1360.57,348.59" fill="none" stroke="#38964f" stroke-width="4.1" stroke-linejoin="round" stroke-linecap="round"/>
<polyline points="1021.9,365.31 1023.57,366.88 1025.24,369.64 1026.92,365.77 1028.59,364.75 1030.26,367.77 1031.93,368.25 1033.61,363.93 1035.28,361.57 1036.53,361.7 1037.79,359.31 1039.04,356.98 1040.3,357.98 1041.97,357.66 1043.64,360.66 1045.31,361.03 1046.99,361.03 1048.66,360.24 1050.33,356.11 1051.59,358.48 1052.84,358.46 1054.09,361.92 1055.35,361.05 1056.6,360.75 1057.86,360.32 1059.11,359.2 1060.37,355.9 1061.76,357.93 1063.15,357.84 1064.55,356.47 1065.94,359.01 1067.33,359.03 1068.73,360.23 1069.98,361.51 1071.24,363.14 1072.49,365.74 1073.75,366.05 1075,367 1076.25,366.34 1077.51,364.14 1078.76,364.3 1080.02,362.09 1081.27,362.19 1082.53,361 1083.78,359.68 1085.03,357.97 1086.29,358.91 1087.54,357.2 1088.8,358.67 1090.05,359.36 1091.31,360.09 1092.98,354.85 1094.23,358.11 1095.49,359.86 1096.74,362.04 1098,360.99 1099.25,362.26 1100.51,362.99 1101.76,363.56 1103.01,361.69 1104.27,361.6 1105.52,361.89 1106.99,361.04 1108.45,360.65 1109.91,359 1111.38,355.93 1112.77,359.23 1114.16,359.49 1115.56,360.72 1116.81,361.5 1118.07,362.2 1119.32,361.77 1120.57,360.14 1121.83,361.7 1123.08,360.75 1124.34,361.29 1125.59,364 1126.99,362.69 1128.38,360.84 1129.77,360.71 1131.03,362.68 1132.28,361.65 1133.54,362.83 1134.79,365.27 1136.46,358.36 1138.14,353.4 1139.81,363.46 1141.2,364.42 1142.6,364.82 1143.99,365.5 1145.66,364.42 1147.33,361.81 1149.01,364.8 1150.68,364.96 1152.02,364.93 1153.36,366.4 1154.69,364.66 1156.03,365.57 1157.37,363.97 1158.76,363.92 1160.16,364.36 1161.55,363.45 1162.94,363.43 1164.34,361.88 1165.73,363.73 1166.99,363.32 1168.24,362.59 1169.49,363.37 1170.75,364 1172.14,363.09 1173.54,359.05 1174.93,359.73 1176.32,359.41 1177.72,358.55 1179.11,359.95 1180.45,360.38 1181.79,358.29 1183.13,359.02 1184.46,358.45 1185.8,357.98 1187.06,357.18 1188.31,357.79 1189.56,360.88 1190.82,359.43 1192.21,359.48 1193.61,360.48 1195,359.04 1196.25,360.9 1197.51,360.98 1198.76,359.87 1200.02,360.56 1201.27,359.42 1202.53,359.11 1203.78,356.94 1205.03,355.73 1206.29,355.48 1207.54,357.24 1208.8,356.96 1210.05,354.67 1211.72,353.37 1213.4,349.56 1215.07,352.61 1216.74,354.16 1218.14,353.76 1219.53,353.84 1220.92,352.91 1222.32,351.38 1223.71,349.45 1225.1,346.86 1226.78,347.39 1228.45,350.28 1230.12,343.11 1231.79,335.12 1233.19,337.44 1234.58,338.23 1235.98,341.78 1237.65,335.09 1239.32,325.57 1240.81,326.02 1242.3,325.2 1243.74,329.71 1245.17,334.57 1246.84,336.64 1248.5,337.7 1249.9,336.07 1251.3,332.26 1252.7,331.19 1254.09,328.66 1255.49,327.33 1256.88,324.8 1258.14,326.51 1259.39,329.6 1261.06,325.43 1262.74,322.55 1264.13,323.54 1265.52,323.57 1266.92,321.67 1268.59,322.8 1270.26,324.98 1271.52,320.35 1272.77,318.8 1274.44,314.6 1276.11,311.37 1277.51,307.57 1278.9,302.7 1280.3,297.4 1281.97,299.45 1283.64,299.81 1285.31,296.27 1286.99,293.65 1288.66,294.69 1290.33,291.57 1292,286.86 1293.26,289.05 1294.51,289.28 1295.77,290.31 1297.02,290.36 1298.53,287.53 1300.03,284.12 1302.04,290.82 1303.71,309.56 1305.38,309.7 1307.06,310.79 1308.73,295.69 1310.12,295.2 1311.52,294.73 1312.91,294.79 1313.75,312.2 1315.42,313.22 1317.09,315.65 1318.76,314.27 1320.44,312.12 1321.27,319.36 1322.53,314.05 1323.78,310.71 1325.03,310.21 1326.29,307.67 1327.54,306.98 1328.8,305.42 1330.47,311.47 1332.14,315.12 1333.4,312.02 1334.65,309.02 1336.05,308.67 1337.44,309.07 1338.83,307.38 1340.34,302.37 1341.84,295.96 1343.85,302.14 1345.52,307.03 1347.2,311.28 1348.45,307.73 1349.7,304.92 1350.96,304.32 1352.21,300.68 1353.47,300.32 1354.72,298.93 1355.98,295.42 1357.23,290.75 1358.62,289.36 1360.02,291.2 1361.41,290.89" fill="none" stroke="#4233dc" stroke-width="4.1" stroke-linejoin="round" stroke-linecap="round"/>
<polyline points="1108.03,441.86 1109.29,442.86 1110.54,443.78 1111.71,448.66 1113.05,438.59 1114.44,437.3 1115.84,436.99 1117.23,436.13 1118.48,435.96 1119.74,436.94 1120.99,436.81 1122.25,437.47 1123.5,436.2 1124.76,435.59 1126.15,435.82 1127.54,436.31 1128.94,437.41 1130.61,438.01 1132.28,436.12 1133.95,436.77 1135.63,436.28 1136.88,437.97 1138.14,442.49 1139.81,433.31 1141.48,433.05 1143.15,430.91 1144.55,431.2 1145.94,434 1147.33,435.69 1148.59,431.84 1149.84,430.53 1151.24,428.21 1152.63,428.84 1154.02,427.23 1155.7,429.12 1157.37,428.34 1158.62,426.83 1159.88,425.4 1161.55,424.96 1163.22,423.6 1164.9,425.99 1166.57,426.74 1168.24,424.28 1169.91,422.69 1171.31,425.62 1172.7,426.83 1174.09,429.18 1175.77,426.55 1177.44,424.07 1179.11,422 1180.78,420.99 1182.46,423.38 1184.13,425.64 1185.8,424.56 1187.47,424.84 1189.15,422.72 1190.82,421.79 1192.21,420.74 1193.61,419.45 1195,418.49 1196.25,418.75 1197.51,419.11 1198.76,421.34 1200.02,421.78 1201.27,421.93 1202.53,420.93 1203.78,422.57 1205.03,421.81 1206.71,422.65 1208.38,421.3 1209.63,423.6 1210.89,425.38 1212.14,427.05 1213.4,430.09 1215.07,427.83 1216.74,423.73 1218.41,423.75 1220.09,423.98 1221.48,425.54 1222.87,426.62 1224.27,428.37 1225.94,427.84 1227.61,424.65 1229.01,428.69 1230.4,433.91 1231.79,437.19 1233.47,436.88 1235.14,433.95 1236.81,435.69 1238.48,434.91 1239.76,438.53 1241.03,440.19 1242.3,442.7 1243.85,442.43 1245.4,441.56 1246.95,439.6 1248.5,439.4 1249.76,439.07 1251.02,439.18 1252.28,439.92 1253.54,441.39 1254.79,439.86 1256.05,440.03 1257.3,440.55 1258.55,439.43 1260.23,441.49 1261.9,442.94 1263.15,443.42 1264.41,441.69 1265.66,443.13 1266.92,441.75 1268.17,442.29 1269.43,442.23 1270.68,442.4 1271.93,443.74 1273.33,442.45 1274.72,441.18 1276.11,438.32 1277.51,442.62 1278.9,446.46 1280.3,448.86 1281.97,441.89 1283.64,443.87 1285.31,444.5 1286.57,445.5 1287.82,445.42 1289.08,443.64 1290.33,444.39 1292,446.67 1293.68,448.23 1295.35,446.45 1297.02,444.46 1298.28,447.36 1299.53,448.97 1300.92,446.39 1302.32,445.71 1303.71,442.95 1304.97,442.38 1306.22,441.42 1307.47,439.08 1308.73,438.71 1309.98,442.27 1311.24,447.54 1312.49,443.54 1313.75,438.78 1315,440.4 1316.25,441.65 1317.51,441.9 1318.76,442.84 1320.44,442.23 1322.11,440.09 1323.36,441.23 1324.62,442.41 1325.87,442.37 1327.13,440.88 1328.38,441.95 1329.63,441.09 1330.89,440.44 1332.14,438.31 1333.4,440.35 1334.65,439.52 1335.91,441.28 1337.16,440.64 1338.55,442.13 1339.95,443.09 1341.34,446.02 1342.6,442.09 1343.85,441.01 1345.24,439.94 1346.64,438.86 1348.03,439.7 1349.43,441.65 1350.82,442.77 1352.21,446.76 1353.89,445.96 1355.56,445.83 1356.81,446.21 1358.07,444.87 1359.32,442.87 1360.57,441.86" fill="none" stroke="#8b8b8b" stroke-width="1.9" stroke-linejoin="round" stroke-linecap="round"/>
<line x1="1241.8" y1="238.6" x2="1241.8" y2="462.8" stroke="#7c7c7c" stroke-width="1.2"/>
<line x1="1248.5" y1="238.6" x2="1248.5" y2="462.8" stroke="#868686" stroke-width="1.1"/>
<circle cx="1242.3" cy="325.2" r="5.7" fill="#4233dc"/>
<circle cx="1248.5" cy="337.7" r="5.7" fill="#4233dc"/>
<circle cx="1242.3" cy="366.2" r="5.7" fill="#38964f"/>
<circle cx="1248.5" cy="367.8" r="5.7" fill="#38964f"/>
<circle cx="1242.3" cy="442.7" r="5.7" fill="#8b8b8b"/>
<circle cx="1248.5" cy="439.4" r="5.7" fill="#8b8b8b"/>
<text x="1374.8" y="295.57" font-size="12.2" fill="#4233dc" textLength="22.6" lengthAdjust="spacingAndGlyphs">매매</text>
<text x="1374.8" y="353.27" font-size="12.2" fill="#38964f" textLength="22.6" lengthAdjust="spacingAndGlyphs">전세</text>
<text x="1374.8" y="435.72" font-size="11.2" fill="#9a9a9a" textLength="21.02" lengthAdjust="spacingAndGlyphs">평균</text>
<text x="1374.8" y="450.89" font-size="11.4" fill="#9a9a9a" textLength="34.5" lengthAdjust="spacingAndGlyphs">58.8%</text>
<rect x="1122.6" y="181.2" width="246" height="57.4" fill="#5b63d8" rx="2.5"/>
<path d="M1239 238.1L1245.2 244.4L1251.4 238.1Z" fill="#5b63d8"/>
<text x="1136.5" y="201.2" font-size="16" fill="#fff" textLength="173.9" lengthAdjust="spacingAndGlyphs" stroke="#fff" stroke-width="0.35">2018.11~2019.03 (4개월)</text>
<text x="1136.5" y="225.8" font-size="16" fill="#fff" textLength="100.4" lengthAdjust="spacingAndGlyphs" stroke="#fff" stroke-width="0.35">매매 -12.46%</text>
<text x="1250.4" y="225.8" font-size="16" fill="#fff" text-anchor="middle" stroke="#fff" stroke-width="0.35">/</text>
<text x="1262.7" y="225.8" font-size="16" fill="#fff" textLength="91.2" lengthAdjust="spacingAndGlyphs" stroke="#fff" stroke-width="0.35">전세 -5.09%</text>
<path d="M967.6 519.6L1237.2 519.6L1245.2 511.6L1253.2 519.6L1423.6 519.6" fill="none" stroke="#dcdcdc" stroke-width="1.3"/>
<text x="985.9" y="566.62" font-size="16.07" fill="#7b7f8a" textLength="250.1" lengthAdjust="spacingAndGlyphs">2018년 11월~2019년 03월 (4개월)</text>
<line x1="1384.3" y1="549.5" x2="1399.3" y2="564.6" stroke="#1c1c1c" stroke-width="2.1" stroke-linecap="round"/>
<line x1="1399.3" y1="549.5" x2="1384.3" y2="564.6" stroke="#1c1c1c" stroke-width="2.1" stroke-linecap="round"/>
<text x="985.9" y="613.14" font-size="18.13" fill="#4233dc" textLength="33.2" lengthAdjust="spacingAndGlyphs">매매</text>
<text x="1033.6" y="615.24" font-size="25.54" fill="#4233dc" font-weight="700" textLength="99.2" lengthAdjust="spacingAndGlyphs">-12.46%</text>
<text x="1404.1" y="613.75" font-size="19.57" fill="#4233dc" text-anchor="end" textLength="89.5" lengthAdjust="spacingAndGlyphs">-1억 2,667</text>
<text x="985.9" y="655.24" font-size="18.13" fill="#38964f" textLength="33.2" lengthAdjust="spacingAndGlyphs">전세</text>
<text x="1033.6" y="657.34" font-size="25.54" fill="#38964f" font-weight="700" textLength="86.6" lengthAdjust="spacingAndGlyphs">-5.09%</text>
<text x="1404.1" y="655.85" font-size="19.57" fill="#38964f" text-anchor="end" textLength="58.6" lengthAdjust="spacingAndGlyphs">-2,583</text>
<rect x="975.7" y="583.3" width="448.3" height="43" fill="none" stroke="#ff0000" stroke-width="5.2"/>
</g>
</svg>
</body>
</html>
